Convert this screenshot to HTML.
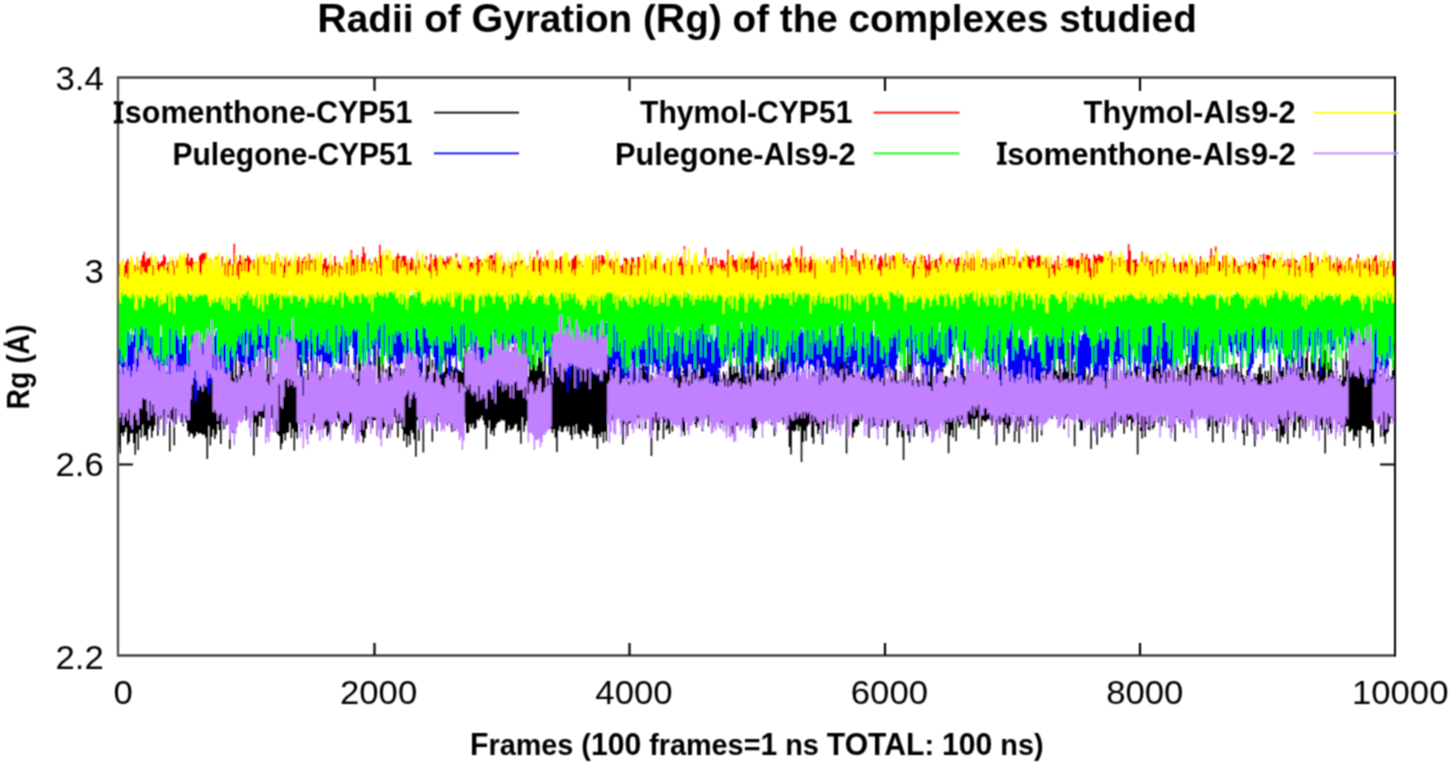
<!DOCTYPE html>
<html><head><meta charset="utf-8"><style>
html,body{margin:0;padding:0;background:#fff;width:1450px;height:765px;overflow:hidden}
svg{display:block}
text{font-family:"Liberation Sans",sans-serif;fill:#000}
</style></head><body>
<svg width="1450" height="765" viewBox="0 0 1450 765">
<rect width="1450" height="765" fill="#fff"/>
<g filter="url(#bl)">
<path d="M374.5 656v-13M374.5 77v14M629.5 656v-13M629.5 77v14M885.0 656v-13M885.0 77v14M1140.0 656v-13M1140.0 77v14M118 271.0h15M1395 271.0h-15M118 464.5h15M1395 464.5h-15" stroke="#000" stroke-width="2.2" fill="none"/>
<defs><filter id="bl" x="0" y="0" width="1450" height="765" filterUnits="userSpaceOnUse"><feConvolveMatrix order="3" kernelMatrix="1 2 1 2 4 2 1 2 1" divisor="16" edgeMode="duplicate"/></filter></defs>
<g id="series" fill="none" stroke-width="1.1"><path stroke="#000000" stroke-width="1.551" d="M118.75 384.6V447.2M120.25 369.8V453.4M121.75 365.4V432.9M123.25 383.2V436.0M124.75 376.0V432.1M126.25 346.1V427.6M127.75 375.5V444.5M129.25 334.9V442.1M130.75 378.5V433.5M132.26 373.4V433.2M133.76 381.6V443.1M135.26 356.5V454.8M136.76 374.9V433.5M138.26 380.7V449.9M139.76 374.1V429.8M141.26 381.0V437.8M142.76 369.1V424.6M144.26 382.0V436.3M145.76 382.6V435.3M147.26 369.4V440.4M148.76 371.5V428.9M150.26 363.1V426.0M151.76 368.9V437.8M153.26 366.9V430.8M154.76 359.9V425.4M156.26 373.1V415.6M157.77 362.1V435.8M159.27 375.6V425.1M160.77 375.8V419.3M162.27 350.2V415.7M163.77 376.2V435.8M165.27 368.4V415.3M166.77 371.8V416.7M168.27 374.5V417.9M169.77 368.6V451.6M171.27 376.8V419.0M172.77 360.6V421.6M174.27 371.7V445.5M175.77 369.0V424.3M177.27 367.7V411.1M178.77 345.4V413.9M180.27 373.9V416.3M181.77 355.7V422.5M183.28 372.3V426.3M184.78 378.2V419.1M186.28 370.0V422.4M187.78 372.6V430.9M189.28 363.6V436.5M190.78 366.7V432.9M192.28 376.2V434.0M193.78 370.4V438.3M195.28 343.3V436.1M196.78 376.1V432.1M198.28 367.3V433.7M199.78 368.6V432.9M201.28 377.0V433.5M202.78 370.1V434.8M204.28 337.3V434.4M205.78 373.5V437.6M207.28 367.9V459.0M208.79 363.0V425.8M210.29 371.3V445.4M211.79 375.9V436.7M213.29 353.6V429.6M214.79 368.1V439.0M216.29 359.0V434.4M217.79 372.7V424.1M219.29 374.6V430.1M220.79 379.3V444.0M222.29 366.6V423.7M223.79 375.5V429.4M225.29 368.7V418.7M226.79 367.7V424.9M228.29 366.8V413.5M229.79 380.6V448.9M231.29 370.9V413.5M232.79 328.1V433.0M234.30 378.0V416.5M235.80 353.8V423.2M237.30 375.5V416.5M238.80 374.6V417.8M240.30 339.8V407.9M241.80 363.8V416.6M243.30 370.9V410.2M244.80 373.1V412.9M246.30 358.0V420.5M247.80 374.7V414.5M249.30 329.4V409.5M250.80 365.9V423.0M252.30 317.5V408.9M253.80 353.5V455.4M255.30 359.4V422.6M256.80 376.0V436.9M258.30 368.9V426.3M259.81 360.5V415.9M261.31 364.5V427.0M262.81 370.1V417.8M264.31 367.7V418.6M265.81 378.1V426.8M267.31 348.4V413.9M268.81 374.1V414.7M270.31 356.9V418.7M271.81 374.5V418.1M273.31 376.4V424.7M274.81 378.1V420.3M276.31 381.9V432.2M277.81 372.4V434.3M279.31 361.3V436.0M280.81 367.3V449.4M282.31 364.3V443.6M283.81 366.4V433.7M285.32 368.3V440.5M286.82 353.2V432.7M288.32 320.3V432.3M289.82 368.4V422.7M291.32 373.1V437.9M292.82 361.9V428.7M294.32 374.6V450.7M295.82 375.9V431.9M297.32 349.9V438.5M298.82 377.9V421.0M300.32 357.3V422.2M301.82 366.2V431.6M303.32 376.3V419.6M304.82 370.6V422.0M306.32 387.0V426.3M307.82 358.6V419.9M309.32 374.0V415.9M310.83 368.3V434.2M312.33 377.2V429.9M313.83 369.8V423.0M315.33 371.3V418.1M316.83 358.5V415.6M318.33 379.5V426.6M319.83 375.6V415.9M321.33 373.8V421.0M322.83 361.4V417.1M324.33 382.4V428.5M325.83 381.3V425.7M327.33 379.1V436.3M328.83 378.1V433.4M330.33 381.0V431.4M331.83 376.3V424.3M333.33 368.3V422.6M334.83 377.2V417.4M336.34 374.0V426.4M337.84 376.5V418.2M339.34 379.0V421.3M340.84 381.8V428.6M342.34 386.9V440.5M343.84 380.6V428.5M345.34 372.2V434.1M346.84 381.8V429.4M348.34 353.4V426.2M349.84 380.3V424.0M351.34 377.5V422.4M352.84 373.3V429.5M354.34 373.5V417.4M355.84 343.6V412.0M357.34 379.0V419.0M358.84 347.5V411.0M360.34 359.0V432.2M361.85 381.7V435.8M363.35 373.0V442.7M364.85 385.2V438.1M366.35 348.2V428.8M367.85 367.3V419.0M369.35 371.8V423.1M370.85 361.2V418.9M372.35 381.7V428.2M373.85 382.8V420.1M375.35 329.2V420.5M376.85 386.2V436.1M378.35 350.8V426.2M379.85 356.5V424.3M381.35 374.9V432.8M382.85 342.7V429.5M384.35 379.6V427.0M385.85 368.9V419.1M387.36 370.3V438.3M388.86 366.4V433.5M390.36 331.3V424.0M391.86 373.3V429.7M393.36 380.0V424.4M394.86 362.0V416.9M396.36 367.7V422.8M397.86 365.1V437.5M399.36 380.1V423.1M400.86 367.9V422.3M402.36 377.2V429.1M403.86 368.5V441.0M405.36 378.6V434.2M406.86 380.5V447.3M408.36 354.7V435.8M409.86 371.4V444.7M411.36 377.6V430.2M412.87 373.6V432.9M414.37 366.5V439.4M415.87 379.8V456.7M417.37 344.4V420.3M418.87 377.2V440.9M420.37 362.4V422.4M421.87 359.4V418.7M423.37 378.1V452.4M424.87 375.9V418.1M426.37 364.4V413.7M427.87 365.5V415.8M429.37 347.3V420.3M430.87 374.3V419.0M432.37 359.5V441.8M433.87 373.0V418.8M435.37 363.7V419.0M436.87 375.5V431.3M438.38 357.5V415.7M439.88 350.5V421.7M441.38 373.9V421.5M442.88 373.3V415.7M444.38 371.8V422.2M445.88 351.7V418.5M447.38 368.0V425.4M448.88 373.8V423.1M450.38 354.5V415.3M451.88 366.3V432.0M453.38 370.3V424.3M454.88 367.3V430.7M456.38 368.0V415.2M457.88 369.3V414.4M459.38 370.9V416.8M460.88 370.7V429.4M462.38 372.4V421.2M463.89 356.6V416.5M465.39 340.8V422.8M466.89 341.3V433.0M468.39 370.7V432.7M469.89 362.6V424.0M471.39 369.8V427.5M472.89 343.6V423.5M474.39 370.4V429.3M475.89 358.5V428.1M477.39 366.6V419.4M478.89 354.4V420.5M480.39 364.3V418.0M481.89 347.5V415.4M483.39 352.6V420.6M484.89 362.2V424.9M486.39 347.8V449.3M487.89 349.7V428.1M489.40 355.7V420.3M490.90 348.9V434.3M492.40 362.5V430.5M493.90 366.9V435.9M495.40 359.4V427.7M496.90 365.1V423.7M498.40 363.3V421.9M499.90 366.7V421.7M501.40 361.6V419.6M502.90 364.7V420.4M504.40 356.1V420.5M505.90 357.9V433.0M507.40 352.3V430.6M508.90 364.1V425.2M510.40 369.6V430.3M511.90 370.5V429.5M513.40 347.3V428.3M514.91 328.7V425.1M516.41 367.8V423.8M517.91 363.9V431.7M519.41 338.6V430.3M520.91 358.4V443.8M522.41 329.7V416.9M523.91 341.5V431.7M525.41 333.2V425.5M526.91 351.7V421.1M528.41 376.7V431.0M529.91 359.6V409.8M531.41 369.9V413.0M532.91 354.5V416.8M534.41 365.0V412.9M535.91 370.5V411.0M537.41 365.7V412.9M538.91 357.0V418.6M540.42 344.8V434.1M541.92 340.9V424.9M543.42 371.2V420.9M544.92 360.1V422.3M546.42 376.7V420.5M547.92 377.9V425.1M549.42 362.0V418.9M550.92 373.7V428.8M552.42 366.6V433.0M553.92 364.4V429.0M555.42 367.6V437.5M556.92 362.8V452.0M558.42 359.4V430.4M559.92 354.5V426.3M561.42 361.3V432.1M562.92 361.0V431.8M564.42 366.2V427.2M565.93 325.0V425.9M567.43 357.7V431.6M568.93 362.0V426.6M570.43 355.9V435.1M571.93 342.8V439.7M573.43 356.2V426.3M574.93 358.0V434.2M576.43 360.8V424.0M577.93 365.4V433.6M579.43 365.0V434.4M580.93 359.1V438.8M582.43 368.3V430.1M583.93 369.0V431.3M585.43 370.0V433.4M586.93 351.3V436.2M588.43 347.8V431.0M589.93 357.8V424.1M591.44 354.8V425.9M592.94 371.9V438.0M594.44 370.1V434.3M595.94 359.6V437.9M597.44 373.5V449.1M598.94 373.4V434.2M600.44 358.9V437.3M601.94 369.7V432.0M603.44 355.1V442.8M604.94 353.8V431.8M606.44 345.2V440.9M607.94 320.1V413.9M609.44 363.4V403.1M610.94 361.6V404.8M612.44 367.7V420.8M613.94 366.9V412.9M615.44 359.7V411.4M616.95 363.3V412.6M618.45 361.9V416.3M619.95 360.1V410.9M621.45 364.7V427.3M622.95 374.5V444.5M624.45 371.1V423.8M625.95 378.7V425.9M627.45 380.9V435.9M628.95 381.6V423.8M630.45 351.2V422.9M631.95 372.6V420.2M633.45 368.7V408.2M634.95 345.8V417.7M636.45 373.5V411.4M637.95 379.7V418.2M639.45 379.9V428.4M640.95 368.6V409.9M642.46 358.5V420.0M643.96 365.7V416.4M645.46 371.7V428.9M646.96 373.9V415.9M648.46 356.9V418.3M649.96 379.5V433.1M651.46 374.6V456.1M652.96 376.1V430.3M654.46 378.7V422.1M655.96 380.1V422.2M657.46 377.0V440.7M658.96 360.4V430.2M660.46 356.6V416.9M661.96 373.7V418.4M663.46 364.6V438.9M664.96 348.1V422.2M666.46 366.9V430.1M667.97 355.3V428.2M669.47 377.7V433.9M670.97 378.1V418.3M672.47 382.8V431.5M673.97 359.3V416.0M675.47 374.8V424.1M676.97 365.9V425.1M678.47 374.7V422.1M679.97 367.6V419.8M681.47 375.2V430.1M682.97 370.7V431.8M684.47 368.8V435.4M685.97 351.9V414.1M687.47 367.7V416.2M688.97 380.3V419.6M690.47 369.4V420.1M691.97 372.4V415.4M693.48 368.4V408.5M694.98 356.5V423.9M696.48 378.4V427.6M697.98 353.4V422.3M699.48 375.9V421.3M700.98 365.5V405.4M702.48 318.3V431.2M703.98 368.0V413.1M705.48 368.7V418.3M706.98 370.1V416.7M708.48 373.4V426.4M709.98 358.0V409.2M711.48 373.1V414.3M712.98 345.0V414.9M714.48 355.0V421.4M715.98 365.1V416.1M717.48 375.5V421.5M718.99 369.6V417.7M720.49 378.2V428.6M721.99 379.7V423.5M723.49 371.8V414.4M724.99 374.3V416.5M726.49 377.5V432.1M727.99 379.1V422.4M729.49 363.8V427.0M730.99 332.0V429.7M732.49 374.5V433.5M733.99 366.2V436.0M735.49 373.0V426.4M736.99 342.5V425.6M738.49 372.5V426.0M739.99 378.0V420.9M741.49 365.2V427.3M742.99 357.5V420.5M744.50 380.5V420.8M746.00 376.4V429.0M747.50 369.3V422.5M749.00 350.7V425.0M750.50 376.5V428.3M752.00 344.6V428.5M753.50 369.0V437.9M755.00 382.7V430.9M756.50 361.4V429.2M758.00 353.4V421.1M759.50 373.8V416.9M761.00 370.1V421.4M762.50 366.0V409.5M764.00 368.2V416.7M765.50 373.8V416.7M767.00 367.5V416.5M768.50 370.6V412.8M770.01 376.7V418.5M771.51 370.1V424.9M773.01 364.5V411.9M774.51 359.1V436.3M776.01 377.2V418.5M777.51 327.3V421.4M779.01 371.9V422.2M780.51 360.3V420.1M782.01 332.7V419.2M783.51 350.7V424.5M785.01 378.6V417.5M786.51 373.3V423.3M788.01 373.3V429.5M789.51 376.1V447.0M791.01 373.0V454.6M792.51 379.4V430.4M794.01 366.5V431.5M795.52 384.5V430.5M797.02 376.7V424.8M798.52 385.4V431.0M800.02 375.8V426.5M801.52 379.6V461.9M803.02 384.4V442.0M804.52 380.9V430.7M806.02 385.7V441.1M807.52 383.0V426.2M809.02 367.7V424.1M810.52 382.9V424.1M812.02 371.6V437.2M813.52 372.3V443.7M815.02 376.9V422.0M816.52 375.1V425.9M818.02 378.6V434.1M819.52 370.5V429.8M821.03 366.6V420.3M822.53 365.9V444.4M824.03 360.5V424.8M825.53 370.2V416.4M827.03 375.5V433.7M828.53 368.6V414.2M830.03 371.4V415.4M831.53 374.7V421.8M833.03 358.1V429.1M834.53 362.5V416.6M836.03 350.0V414.3M837.53 360.4V424.6M839.03 355.4V414.3M840.53 356.9V410.1M842.03 348.8V412.6M843.53 329.0V418.7M845.03 373.1V414.5M846.54 356.5V453.4M848.04 364.9V411.7M849.54 371.2V414.5M851.04 352.9V411.2M852.54 368.3V437.6M854.04 375.1V432.4M855.54 381.8V426.2M857.04 360.3V426.7M858.54 359.6V424.9M860.04 374.4V414.4M861.54 377.2V421.4M863.04 371.6V418.9M864.54 350.2V413.5M866.04 367.1V413.8M867.54 373.3V412.3M869.04 378.1V438.0M870.54 376.2V421.9M872.05 372.7V419.7M873.55 372.9V427.2M875.05 367.4V425.3M876.55 376.3V418.8M878.05 356.9V414.7M879.55 354.8V417.6M881.05 380.1V427.1M882.55 380.6V426.3M884.05 366.0V418.2M885.55 377.8V419.4M887.05 381.2V445.6M888.55 379.6V427.5M890.05 364.0V415.4M891.55 376.8V415.4M893.05 368.1V418.5M894.55 368.0V423.1M896.05 369.5V420.3M897.56 381.6V437.6M899.06 380.2V431.7M900.56 371.4V421.2M902.06 379.4V437.3M903.56 376.3V459.9M905.06 359.7V429.6M906.56 370.3V421.9M908.06 352.8V435.4M909.56 354.9V442.5M911.06 335.7V423.0M912.56 379.4V424.7M914.06 373.4V436.7M915.56 381.8V424.6M917.06 377.0V427.3M918.56 379.9V424.2M920.06 380.1V425.0M921.56 364.2V424.1M923.07 373.3V427.7M924.57 368.8V424.1M926.07 368.4V433.2M927.57 374.3V436.2M929.07 381.9V424.3M930.57 330.0V417.7M932.07 365.2V426.8M933.57 385.6V437.1M935.07 376.0V420.6M936.57 339.4V430.0M938.07 367.8V418.8M939.57 375.3V423.8M941.07 367.1V421.1M942.57 368.5V425.9M944.07 380.7V422.5M945.57 375.9V433.8M947.07 376.6V424.0M948.58 385.5V453.2M950.08 378.3V435.4M951.58 370.6V430.1M953.08 354.5V437.6M954.58 377.2V417.1M956.08 393.6V441.3M957.58 364.9V421.6M959.08 380.6V427.5M960.58 372.1V425.1M962.08 372.8V420.0M963.58 368.3V427.9M965.08 375.9V423.3M966.58 379.0V418.8M968.08 376.7V423.6M969.58 371.6V425.0M971.08 377.3V429.3M972.58 371.6V418.5M974.09 375.1V429.8M975.59 363.2V418.9M977.09 377.7V417.4M978.59 383.2V439.0M980.09 362.3V417.2M981.59 375.9V426.6M983.09 353.2V419.9M984.59 371.8V421.6M986.09 374.2V421.6M987.59 374.7V419.2M989.09 377.8V419.4M990.59 373.3V420.9M992.09 368.9V425.5M993.59 343.4V416.1M995.09 374.5V417.0M996.59 359.6V445.2M998.09 376.9V421.1M999.60 346.8V424.6M1001.10 349.9V423.1M1002.60 376.5V421.9M1004.10 359.5V441.5M1005.60 366.4V424.4M1007.10 387.0V428.5M1008.60 369.2V433.6M1010.10 377.4V425.6M1011.60 354.9V422.5M1013.10 364.9V414.0M1014.60 378.5V441.8M1016.10 373.5V431.6M1017.60 366.4V421.6M1019.10 377.7V443.2M1020.60 359.3V425.8M1022.10 381.4V428.8M1023.60 377.3V427.5M1025.11 374.0V413.5M1026.61 379.8V419.6M1028.11 374.7V425.7M1029.61 372.4V421.8M1031.11 370.9V420.8M1032.61 385.4V442.2M1034.11 345.8V422.4M1035.61 370.7V417.2M1037.11 373.1V441.9M1038.61 332.7V418.6M1040.11 370.6V416.1M1041.61 369.5V435.4M1043.11 375.8V423.5M1044.61 373.4V419.6M1046.11 368.5V412.4M1047.61 357.1V410.6M1049.11 370.7V414.3M1050.62 322.4V416.7M1052.12 373.1V419.0M1053.62 363.6V413.4M1055.12 363.2V413.6M1056.62 371.1V418.9M1058.12 375.4V416.3M1059.62 341.3V425.7M1061.12 369.5V415.8M1062.62 372.3V410.0M1064.12 363.7V429.1M1065.62 367.6V419.3M1067.12 372.0V416.6M1068.62 341.2V411.3M1070.12 378.8V417.6M1071.62 344.0V419.2M1073.12 373.1V415.7M1074.62 361.8V446.2M1076.13 366.6V418.7M1077.63 366.2V410.5M1079.13 365.8V421.7M1080.63 367.3V430.4M1082.13 347.4V430.3M1083.63 368.5V412.1M1085.13 354.5V423.4M1086.63 377.1V417.1M1088.13 374.8V415.3M1089.63 358.8V413.5M1091.13 377.5V448.9M1092.63 376.5V418.5M1094.13 365.0V431.0M1095.63 370.5V419.2M1097.13 371.1V444.7M1098.63 322.5V415.6M1100.13 375.0V415.1M1101.64 375.6V437.2M1103.14 366.4V423.5M1104.64 366.6V432.6M1106.14 367.6V413.7M1107.64 342.5V427.7M1109.14 379.4V431.5M1110.64 382.0V427.7M1112.14 371.8V437.5M1113.64 369.7V420.3M1115.14 378.9V429.4M1116.64 358.9V417.1M1118.14 379.7V422.2M1119.64 373.9V421.6M1121.14 370.8V424.1M1122.64 376.8V416.9M1124.14 381.8V433.7M1125.64 373.6V417.7M1127.15 367.3V426.8M1128.65 377.9V419.9M1130.15 378.1V419.0M1131.65 371.6V430.7M1133.15 382.6V422.8M1134.65 363.2V415.2M1136.15 366.5V418.6M1137.65 365.9V454.6M1139.15 381.5V424.0M1140.65 351.0V431.1M1142.15 387.5V438.6M1143.65 382.3V431.1M1145.15 381.7V437.1M1146.65 376.8V423.9M1148.15 370.9V429.2M1149.65 381.3V430.5M1151.15 368.6V417.1M1152.66 356.4V429.3M1154.16 365.8V427.3M1155.66 360.4V422.5M1157.16 368.7V415.1M1158.66 347.1V422.8M1160.16 355.2V417.9M1161.66 374.3V426.2M1163.16 356.7V410.5M1164.66 355.2V420.8M1166.16 371.6V417.1M1167.66 368.2V407.2M1169.16 370.5V428.1M1170.66 354.9V426.8M1172.16 371.7V421.1M1173.66 363.7V427.1M1175.16 381.4V441.5M1176.66 379.5V417.7M1178.17 367.3V417.1M1179.67 375.0V423.3M1181.17 370.4V411.7M1182.67 375.3V421.0M1184.17 369.4V432.3M1185.67 365.8V417.0M1187.17 355.1V402.7M1188.67 374.5V417.5M1190.17 363.6V411.1M1191.67 359.0V419.0M1193.17 375.2V416.5M1194.67 354.6V415.2M1196.17 372.5V414.1M1197.67 354.8V414.8M1199.17 364.9V418.7M1200.67 365.3V410.5M1202.17 368.8V413.5M1203.68 366.5V412.7M1205.18 337.3V413.0M1206.68 366.8V416.2M1208.18 381.9V430.9M1209.68 370.2V427.0M1211.18 366.2V413.5M1212.68 369.0V442.2M1214.18 366.0V408.9M1215.68 373.3V426.4M1217.18 377.8V433.2M1218.68 365.7V416.3M1220.18 372.9V422.5M1221.68 369.6V413.4M1223.18 371.9V442.6M1224.68 374.3V423.6M1226.18 369.4V411.1M1227.68 369.8V416.0M1229.19 365.0V411.5M1230.69 369.8V408.5M1232.19 364.2V408.2M1233.69 371.0V432.1M1235.19 364.2V409.8M1236.69 363.1V420.2M1238.19 371.5V414.6M1239.69 372.5V412.8M1241.19 364.0V417.4M1242.69 374.7V433.2M1244.19 378.9V445.3M1245.69 376.5V417.7M1247.19 370.1V436.0M1248.69 366.9V420.1M1250.19 375.6V422.6M1251.69 379.2V424.9M1253.19 377.8V429.0M1254.70 373.2V446.4M1256.20 377.8V418.7M1257.70 374.1V434.1M1259.20 367.3V419.7M1260.70 363.9V422.5M1262.20 373.9V428.1M1263.70 385.7V435.9M1265.20 370.8V419.3M1266.70 376.5V417.7M1268.20 370.8V427.5M1269.70 380.5V421.5M1271.20 365.0V426.4M1272.70 383.7V423.6M1274.20 370.0V424.4M1275.70 374.0V430.7M1277.20 376.8V441.6M1278.70 365.3V423.7M1280.21 372.0V442.4M1281.71 370.9V435.4M1283.21 367.1V437.6M1284.71 376.3V433.9M1286.21 325.2V425.0M1287.71 368.2V444.1M1289.21 376.9V419.4M1290.71 368.0V422.9M1292.21 369.6V415.5M1293.71 357.3V437.2M1295.21 372.2V430.6M1296.71 368.0V413.2M1298.21 379.5V422.6M1299.71 367.0V438.2M1301.21 372.9V419.8M1302.71 344.1V427.7M1304.21 378.1V424.6M1305.72 357.9V431.5M1307.22 346.1V415.1M1308.72 372.3V423.6M1310.22 374.6V413.2M1311.72 341.3V419.9M1313.22 361.8V417.4M1314.72 360.7V413.5M1316.22 375.3V430.4M1317.72 371.1V418.9M1319.22 358.3V412.6M1320.72 363.4V425.2M1322.22 352.9V429.9M1323.72 346.1V407.5M1325.22 350.3V453.4M1326.72 379.7V424.8M1328.22 362.2V430.8M1329.72 367.5V428.7M1331.23 357.6V433.4M1332.73 370.7V420.0M1334.23 376.7V418.8M1335.73 363.4V426.1M1337.23 371.2V418.2M1338.73 378.9V424.3M1340.23 375.1V423.2M1341.73 380.6V427.7M1343.23 358.4V423.4M1344.73 376.6V446.1M1346.23 342.5V426.3M1347.73 360.8V426.1M1349.23 360.5V432.3M1350.73 370.0V430.9M1352.23 364.7V429.0M1353.73 359.9V440.8M1355.23 374.5V435.8M1356.74 376.1V437.1M1358.24 371.9V430.2M1359.74 354.8V448.1M1361.24 369.9V430.3M1362.74 349.8V425.8M1364.24 339.9V426.3M1365.74 350.0V426.8M1367.24 360.4V433.3M1368.74 364.6V429.7M1370.24 368.8V429.3M1371.74 335.2V442.9M1373.24 364.5V446.6M1374.74 363.2V416.1M1376.24 358.8V418.6M1377.74 374.4V423.4M1379.24 357.0V423.2M1380.74 373.8V436.9M1382.25 384.5V429.7M1383.75 368.8V436.2M1385.25 388.4V443.8M1386.75 378.8V433.4M1388.25 345.9V431.7M1389.75 380.0V423.5M1391.25 376.7V418.0M1392.75 370.3V415.3M1394.25 359.9V420.9"/>
<path stroke="#0000ff" stroke-width="1.551" d="M118.75 310.0V373.9M120.25 314.1V364.6M121.75 322.8V367.0M123.25 317.9V376.2M124.75 323.2V367.1M126.25 321.8V373.8M127.75 322.0V379.8M129.25 321.2V408.0M130.75 334.3V419.9M132.26 341.8V391.8M133.76 335.1V382.6M135.26 323.4V405.4M136.76 329.1V374.7M138.26 327.9V387.0M139.76 312.0V374.8M141.26 314.8V361.1M142.76 318.2V370.1M144.26 328.1V385.6M145.76 327.7V382.1M147.26 293.4V369.7M148.76 306.5V365.5M150.26 319.8V369.0M151.76 325.2V375.8M153.26 321.9V369.1M154.76 311.3V369.8M156.26 320.4V367.2M157.77 305.2V369.5M159.27 322.9V379.2M160.77 337.1V381.2M162.27 336.6V394.7M163.77 326.8V373.1M165.27 323.2V374.3M166.77 319.9V365.7M168.27 320.1V377.0M169.77 301.3V378.0M171.27 316.5V378.0M172.77 321.7V374.4M174.27 300.9V388.3M175.77 326.7V401.0M177.27 325.7V377.0M178.77 319.7V367.0M180.27 331.1V378.7M181.77 334.8V388.4M183.28 343.8V389.0M184.78 335.1V393.2M186.28 317.9V397.5M187.78 318.3V392.9M189.28 319.5V372.7M190.78 307.1V379.7M192.28 328.9V378.0M193.78 332.3V378.8M195.28 335.9V402.1M196.78 344.0V396.4M198.28 343.2V388.5M199.78 334.7V385.9M201.28 334.3V389.2M202.78 328.7V388.3M204.28 334.5V378.0M205.78 337.6V380.8M207.28 332.1V387.9M208.79 326.2V394.6M210.29 314.7V384.3M211.79 332.6V380.0M213.29 325.3V378.8M214.79 336.1V401.2M216.29 330.5V375.5M217.79 319.9V388.9M219.29 318.9V376.5M220.79 327.1V370.9M222.29 313.9V385.3M223.79 326.0V372.6M225.29 330.8V377.6M226.79 321.2V374.5M228.29 328.4V408.1M229.79 320.6V379.1M231.29 326.1V372.7M232.79 319.4V365.4M234.30 291.5V359.3M235.80 310.3V357.5M237.30 310.5V353.8M238.80 310.9V361.1M240.30 316.8V363.7M241.80 312.8V362.4M243.30 309.6V367.6M244.80 322.1V381.0M246.30 306.4V378.4M247.80 299.7V364.3M249.30 304.6V367.7M250.80 308.6V366.0M252.30 315.8V395.5M253.80 314.6V363.3M255.30 290.9V371.7M256.80 296.1V357.2M258.30 304.3V349.4M259.81 302.9V371.1M261.31 289.8V352.2M262.81 302.2V349.6M264.31 305.7V349.0M265.81 308.4V357.1M267.31 308.8V353.8M268.81 293.4V347.6M270.31 298.1V355.8M271.81 288.1V383.4M273.31 294.0V345.8M274.81 309.7V358.6M276.31 310.5V362.5M277.81 313.1V384.7M279.31 311.1V356.7M280.81 314.2V360.7M282.31 314.0V388.3M283.81 311.9V357.5M285.32 309.3V366.6M286.82 320.0V365.5M288.32 321.8V373.9M289.82 323.3V366.5M291.32 311.1V374.3M292.82 328.5V373.4M294.32 314.4V362.1M295.82 309.7V359.3M297.32 306.9V355.5M298.82 308.1V360.6M300.32 312.6V354.7M301.82 315.6V393.1M303.32 307.9V355.7M304.82 314.0V363.2M306.32 309.6V363.7M307.82 314.0V357.6M309.32 310.8V348.9M310.83 319.7V372.7M312.33 320.1V372.7M313.83 313.2V370.6M315.33 298.6V354.0M316.83 308.6V360.1M318.33 316.9V355.9M319.83 307.3V361.7M321.33 320.7V354.7M322.83 314.5V367.7M324.33 311.5V368.0M325.83 325.2V379.2M327.33 322.7V370.6M328.83 322.2V401.0M330.33 315.0V367.3M331.83 322.0V367.5M333.33 319.9V356.6M334.83 320.1V358.1M336.34 316.7V362.6M337.84 315.3V352.1M339.34 319.9V364.3M340.84 319.1V364.1M342.34 325.0V376.6M343.84 308.6V382.1M345.34 319.0V366.9M346.84 306.8V354.7M348.34 310.3V352.2M349.84 296.5V345.6M351.34 300.1V341.2M352.84 308.5V347.9M354.34 311.8V364.7M355.84 307.0V363.3M357.34 310.1V354.7M358.84 316.5V357.7M360.34 316.1V351.4M361.85 301.0V353.2M363.35 312.4V380.7M364.85 316.0V359.4M366.35 296.2V348.3M367.85 309.0V368.2M369.35 296.2V382.5M370.85 300.0V344.3M372.35 308.1V349.1M373.85 290.4V382.4M375.35 295.3V346.3M376.85 292.0V342.9M378.35 310.6V355.9M379.85 304.8V349.0M381.35 306.5V355.4M382.85 322.1V355.3M384.35 303.0V355.9M385.85 314.4V348.3M387.36 311.6V355.2M388.86 294.7V363.5M390.36 306.9V347.7M391.86 306.4V360.7M393.36 314.5V366.3M394.86 320.4V355.4M396.36 319.6V363.6M397.86 325.9V381.2M399.36 321.5V377.3M400.86 328.4V363.6M402.36 325.0V363.2M403.86 318.8V352.8M405.36 326.0V358.9M406.86 315.4V358.0M408.36 318.5V353.4M409.86 313.7V353.2M411.36 304.5V373.1M412.87 313.0V352.6M414.37 317.9V354.1M415.87 313.8V353.9M417.37 311.4V354.3M418.87 322.2V382.7M420.37 306.7V357.5M421.87 315.1V374.3M423.37 309.4V354.9M424.87 319.0V352.9M426.37 305.8V365.2M427.87 313.2V357.8M429.37 315.6V352.9M430.87 305.6V348.4M432.37 309.4V348.2M433.87 314.4V357.0M435.37 320.2V365.3M436.87 324.6V380.5M438.38 326.8V364.1M439.88 327.3V363.5M441.38 330.6V377.3M442.88 316.7V363.6M444.38 295.4V360.6M445.88 317.3V356.4M447.38 308.3V354.3M448.88 322.4V384.7M450.38 305.6V370.3M451.88 321.7V355.5M453.38 322.0V357.9M454.88 295.1V355.4M456.38 318.4V373.1M457.88 316.8V355.1M459.38 296.4V360.5M460.88 306.0V361.2M462.38 301.3V370.1M463.89 305.6V347.9M465.39 301.7V342.7M466.89 303.5V348.1M468.39 310.6V346.6M469.89 304.4V343.4M471.39 299.1V351.4M472.89 314.7V360.2M474.39 318.8V354.9M475.89 318.2V365.1M477.39 318.4V353.1M478.89 320.3V356.5M480.39 315.1V399.8M481.89 323.6V375.6M483.39 323.8V370.4M484.89 317.1V364.3M486.39 312.4V352.6M487.89 316.5V359.2M489.40 321.0V367.4M490.90 318.6V362.7M492.40 303.6V365.3M493.90 320.5V397.8M495.40 321.0V376.6M496.90 320.4V386.4M498.40 314.3V352.4M499.90 310.9V351.4M501.40 303.1V350.1M502.90 305.0V357.5M504.40 299.0V354.9M505.90 302.6V339.4M507.40 299.9V344.7M508.90 298.9V347.8M510.40 303.2V343.3M511.90 298.5V343.3M513.40 309.4V344.1M514.91 296.4V347.6M516.41 305.9V343.5M517.91 308.9V356.7M519.41 297.9V348.5M520.91 299.7V337.1M522.41 305.5V380.7M523.91 310.7V346.1M525.41 311.8V347.2M526.91 315.9V357.2M528.41 308.4V363.7M529.91 314.8V365.6M531.41 313.9V355.2M532.91 295.9V344.4M534.41 315.2V354.0M535.91 296.5V351.6M537.41 317.1V350.6M538.91 313.3V356.0M540.42 310.0V352.9M541.92 292.9V337.7M543.42 298.0V342.8M544.92 314.8V362.2M546.42 319.7V356.2M547.92 318.0V353.2M549.42 306.6V366.1M550.92 307.4V375.5M552.42 309.9V385.1M553.92 310.5V356.6M555.42 317.3V364.2M556.92 313.4V355.0M558.42 324.2V359.4M559.92 324.9V358.7M561.42 318.7V358.9M562.92 311.9V363.4M564.42 320.6V360.1M565.93 318.9V360.1M567.43 323.5V391.7M568.93 318.9V374.9M570.43 334.6V378.5M571.93 316.4V365.9M573.43 315.3V364.0M574.93 315.6V369.9M576.43 317.9V356.0M577.93 299.6V389.0M579.43 307.7V363.0M580.93 314.1V360.3M582.43 318.9V357.3M583.93 313.4V360.4M585.43 322.2V358.2M586.93 306.1V356.7M588.43 325.4V362.4M589.93 329.7V373.8M591.44 317.7V377.7M592.94 318.3V360.6M594.44 322.4V368.1M595.94 308.6V363.6M597.44 323.1V359.9M598.94 323.0V361.4M600.44 318.0V382.8M601.94 316.6V376.0M603.44 318.4V360.9M604.94 303.9V354.6M606.44 322.7V371.5M607.94 312.3V356.6M609.44 315.0V366.9M610.94 313.3V378.2M612.44 326.6V376.3M613.94 320.2V364.3M615.44 321.1V368.1M616.95 327.1V371.8M618.45 327.7V365.8M619.95 323.8V380.5M621.45 328.0V369.0M622.95 334.3V384.7M624.45 339.6V372.6M625.95 335.8V384.9M627.45 337.9V380.4M628.95 339.7V378.1M630.45 333.9V395.9M631.95 327.6V364.8M633.45 308.6V385.9M634.95 327.5V368.7M636.45 326.6V381.0M637.95 323.6V357.1M639.45 320.1V394.5M640.95 313.0V363.7M642.46 311.2V364.8M643.96 321.7V363.2M645.46 311.2V370.8M646.96 328.9V387.3M648.46 313.6V369.7M649.96 324.3V363.6M651.46 330.8V364.5M652.96 322.5V372.9M654.46 324.6V363.2M655.96 323.3V366.4M657.46 307.3V374.8M658.96 326.1V370.9M660.46 326.1V363.5M661.96 319.9V361.9M663.46 322.6V364.3M664.96 326.4V375.8M666.46 338.5V380.6M667.97 331.7V385.1M669.47 326.1V371.7M670.97 323.8V370.5M672.47 319.1V365.6M673.97 306.5V376.8M675.47 332.9V384.9M676.97 331.0V367.0M678.47 335.2V378.3M679.97 315.8V373.9M681.47 321.5V365.8M682.97 326.9V368.6M684.47 318.5V369.4M685.97 331.5V368.2M687.47 320.4V376.3M688.97 324.6V364.0M690.47 329.8V364.4M691.97 324.7V369.2M693.48 317.7V372.4M694.98 323.6V360.2M696.48 314.2V398.6M697.98 306.6V360.1M699.48 327.8V364.8M700.98 305.9V368.3M702.48 331.0V363.9M703.98 304.1V363.8M705.48 330.9V376.8M706.98 333.1V376.2M708.48 341.8V377.6M709.98 337.2V400.6M711.48 334.2V386.7M712.98 339.0V404.7M714.48 340.9V373.4M715.98 336.4V371.2M717.48 321.0V386.8M718.99 324.3V368.3M720.49 331.4V368.2M721.99 328.0V362.5M723.49 318.3V366.6M724.99 317.7V362.0M726.49 298.7V360.3M727.99 312.3V355.3M729.49 322.6V366.9M730.99 317.5V360.1M732.49 312.5V351.8M733.99 306.1V358.2M735.49 311.1V349.4M736.99 317.9V366.7M738.49 318.1V356.8M739.99 324.9V365.8M741.49 329.0V374.1M742.99 317.2V358.5M744.50 308.6V380.3M746.00 324.9V363.1M747.50 321.1V393.1M749.00 331.0V365.0M750.50 323.5V362.3M752.00 317.8V362.6M753.50 315.4V377.4M755.00 319.0V355.2M756.50 313.3V353.6M758.00 318.0V359.1M759.50 312.2V354.9M761.00 315.7V360.8M762.50 322.6V396.2M764.00 309.1V357.4M765.50 314.6V351.6M767.00 310.4V344.4M768.50 308.1V344.1M770.01 307.2V352.5M771.51 298.7V356.7M773.01 305.9V359.5M774.51 309.3V344.1M776.01 315.7V352.1M777.51 316.4V350.9M779.01 310.2V359.4M780.51 311.5V373.1M782.01 309.2V361.3M783.51 297.4V345.5M785.01 317.3V372.4M786.51 327.3V373.8M788.01 327.4V386.8M789.51 322.8V366.9M791.01 332.7V367.9M792.51 320.7V408.1M794.01 324.6V387.6M795.52 329.3V362.3M797.02 320.7V381.3M798.52 331.6V384.8M800.02 330.1V366.3M801.52 328.4V368.1M803.02 332.4V400.6M804.52 325.0V364.0M806.02 310.8V361.6M807.52 312.5V359.5M809.02 316.2V383.2M810.52 322.5V364.8M812.02 329.7V364.3M813.52 329.5V366.2M815.02 331.4V379.0M816.52 327.0V373.0M818.02 324.6V368.9M819.52 335.3V387.6M821.03 327.0V374.2M822.53 302.8V367.3M824.03 317.6V355.9M825.53 319.4V358.2M827.03 317.2V366.6M828.53 318.4V372.7M830.03 326.3V366.9M831.53 337.3V382.8M833.03 320.0V364.4M834.53 304.8V369.1M836.03 317.1V384.2M837.53 335.7V375.7M839.03 324.4V369.5M840.53 320.3V363.6M842.03 323.5V363.1M843.53 310.9V366.9M845.03 328.2V374.1M846.54 308.3V355.1M848.04 319.3V363.7M849.54 321.4V372.3M851.04 326.1V403.0M852.54 323.3V367.4M854.04 326.8V362.6M855.54 311.5V408.0M857.04 320.9V376.2M858.54 325.9V372.8M860.04 321.2V371.4M861.54 329.8V367.2M863.04 316.0V364.1M864.54 331.3V376.5M866.04 329.1V391.7M867.54 328.9V376.8M869.04 322.7V383.2M870.54 326.0V383.6M872.05 320.1V367.1M873.55 336.1V374.1M875.05 335.5V414.8M876.55 327.9V417.7M878.05 336.6V408.5M879.55 327.8V377.5M881.05 319.9V380.0M882.55 330.2V378.0M884.05 328.1V364.5M885.55 329.5V367.8M887.05 318.4V372.4M888.55 319.3V368.0M890.05 332.5V367.3M891.55 319.3V368.9M893.05 318.1V375.4M894.55 319.6V373.1M896.05 313.4V365.2M897.56 316.9V358.4M899.06 318.1V352.0M900.56 308.2V349.9M902.06 304.6V342.6M903.56 311.7V370.2M905.06 304.3V352.2M906.56 307.7V347.0M908.06 314.7V353.1M909.56 316.4V353.2M911.06 296.8V343.6M912.56 308.5V373.3M914.06 301.8V341.6M915.56 296.7V365.9M917.06 310.0V353.8M918.56 313.3V363.5M920.06 314.7V359.5M921.56 325.8V363.0M923.07 310.6V367.5M924.57 332.0V386.8M926.07 332.1V377.0M927.57 329.0V404.0M929.07 319.1V365.1M930.57 330.9V366.3M932.07 318.1V372.2M933.57 316.6V366.7M935.07 314.8V362.5M936.57 325.7V382.7M938.07 318.7V365.6M939.57 332.2V379.2M941.07 326.2V367.9M942.57 313.2V368.1M944.07 321.6V367.3M945.57 321.3V365.7M947.07 320.2V360.9M948.58 322.5V357.7M950.08 322.9V359.7M951.58 318.0V355.6M953.08 304.7V346.7M954.58 306.3V343.1M956.08 304.6V339.5M957.58 307.6V344.9M959.08 310.0V348.3M960.58 300.4V378.1M962.08 320.2V374.1M963.58 312.7V350.2M965.08 297.8V351.5M966.58 312.5V350.8M968.08 303.1V375.5M969.58 296.4V358.2M971.08 294.8V385.8M972.58 306.2V357.7M974.09 293.5V344.5M975.59 317.2V354.4M977.09 316.5V352.8M978.59 316.4V355.5M980.09 317.7V363.0M981.59 312.4V353.0M983.09 316.7V365.8M984.59 312.1V358.1M986.09 306.1V372.6M987.59 314.8V360.1M989.09 314.9V365.0M990.59 316.6V391.0M992.09 293.3V361.6M993.59 314.6V375.0M995.09 307.3V362.0M996.59 308.2V356.3M998.09 314.5V363.3M999.60 325.4V366.4M1001.10 324.0V388.0M1002.60 315.5V362.8M1004.10 310.9V380.4M1005.60 295.5V351.3M1007.10 304.3V349.0M1008.60 325.3V402.5M1010.10 328.6V398.8M1011.60 310.3V370.3M1013.10 335.8V374.9M1014.60 338.5V383.4M1016.10 338.8V381.4M1017.60 336.1V371.8M1019.10 338.2V373.7M1020.60 326.5V368.4M1022.10 313.2V378.9M1023.60 337.9V395.7M1025.11 348.9V391.5M1026.61 326.0V393.2M1028.11 323.1V384.2M1029.61 345.9V382.5M1031.11 344.2V386.0M1032.61 340.5V398.7M1034.11 337.1V377.4M1035.61 335.0V373.8M1037.11 336.7V403.7M1038.61 337.6V388.4M1040.11 331.8V377.3M1041.61 327.4V406.6M1043.11 334.5V371.6M1044.61 337.4V392.7M1046.11 330.4V366.0M1047.61 323.5V396.5M1049.11 325.4V374.5M1050.62 316.2V378.9M1052.12 318.1V360.1M1053.62 328.3V367.1M1055.12 319.6V371.9M1056.62 302.2V358.7M1058.12 321.2V359.0M1059.62 323.0V358.0M1061.12 324.2V359.6M1062.62 307.5V364.0M1064.12 315.3V371.3M1065.62 307.0V361.4M1067.12 290.3V368.1M1068.62 293.2V333.8M1070.12 300.1V339.2M1071.62 299.0V368.4M1073.12 310.4V359.5M1074.62 313.7V355.5M1076.13 330.1V364.3M1077.63 332.9V378.5M1079.13 329.3V379.3M1080.63 340.2V389.6M1082.13 335.2V416.1M1083.63 325.3V374.0M1085.13 320.0V366.2M1086.63 326.6V366.9M1088.13 332.4V368.8M1089.63 329.2V372.7M1091.13 327.3V363.7M1092.63 318.1V363.0M1094.13 329.8V372.4M1095.63 332.6V410.9M1097.13 313.8V378.9M1098.63 315.4V370.3M1100.13 332.9V398.9M1101.64 337.2V406.0M1103.14 334.4V382.3M1104.64 323.7V383.8M1106.14 329.6V364.7M1107.64 319.8V373.5M1109.14 297.1V356.8M1110.64 313.6V354.2M1112.14 310.2V348.8M1113.64 310.1V388.1M1115.14 310.8V385.7M1116.64 322.8V356.6M1118.14 324.0V361.3M1119.64 316.2V366.5M1121.14 318.5V357.5M1122.64 315.8V358.9M1124.14 314.0V381.0M1125.64 311.2V348.5M1127.15 320.8V360.9M1128.65 318.5V364.8M1130.15 319.5V376.2M1131.65 313.0V351.9M1133.15 316.3V348.7M1134.65 309.8V371.3M1136.15 325.8V361.4M1137.65 317.6V356.1M1139.15 328.0V369.1M1140.65 325.4V363.7M1142.15 323.7V361.9M1143.65 324.7V371.7M1145.15 315.6V363.5M1146.65 319.0V378.8M1148.15 317.3V374.6M1149.65 320.1V374.2M1151.15 325.7V363.4M1152.66 312.5V360.5M1154.16 308.9V371.1M1155.66 314.5V356.3M1157.16 318.5V361.1M1158.66 328.2V361.6M1160.16 321.7V368.7M1161.66 318.0V359.2M1163.16 322.7V382.1M1164.66 321.3V377.3M1166.16 320.1V368.8M1167.66 315.8V364.1M1169.16 303.1V364.5M1170.66 323.4V362.5M1172.16 293.5V370.2M1173.66 311.4V352.5M1175.16 316.6V352.2M1176.66 319.6V370.8M1178.17 300.4V353.7M1179.67 311.3V353.4M1181.17 313.6V347.3M1182.67 302.1V349.9M1184.17 296.5V349.5M1185.67 306.8V341.1M1187.17 305.7V346.0M1188.67 307.8V357.4M1190.17 313.3V352.5M1191.67 322.4V358.6M1193.17 314.8V400.2M1194.67 315.4V364.8M1196.17 319.4V364.4M1197.67 301.7V357.7M1199.17 320.0V356.7M1200.67 293.9V348.5M1202.17 312.0V347.7M1203.68 302.6V343.1M1205.18 299.8V341.7M1206.68 297.4V339.0M1208.18 299.5V341.4M1209.68 294.5V336.2M1211.18 300.6V365.4M1212.68 306.4V376.6M1214.18 298.8V355.2M1215.68 316.2V353.9M1217.18 307.2V377.2M1218.68 316.0V374.4M1220.18 305.6V345.2M1221.68 301.3V344.3M1223.18 306.1V363.4M1224.68 316.2V349.4M1226.18 311.0V353.2M1227.68 309.0V354.9M1229.19 308.0V345.8M1230.69 308.7V352.0M1232.19 313.7V355.4M1233.69 307.8V345.6M1235.19 310.2V344.4M1236.69 316.9V353.6M1238.19 311.0V356.8M1239.69 313.8V350.8M1241.19 312.5V365.8M1242.69 313.7V357.2M1244.19 309.0V348.0M1245.69 307.2V350.9M1247.19 318.7V355.8M1248.69 317.0V398.3M1250.19 329.8V388.1M1251.69 313.8V368.0M1253.19 317.2V364.0M1254.70 313.5V352.2M1256.20 302.6V357.7M1257.70 310.2V348.7M1259.20 308.6V345.0M1260.70 305.1V346.0M1262.20 290.0V348.7M1263.70 305.7V368.3M1265.20 299.4V353.1M1266.70 294.2V344.6M1268.20 304.3V352.9M1269.70 307.1V345.7M1271.20 303.6V343.0M1272.70 290.8V349.6M1274.20 302.2V339.5M1275.70 307.1V344.5M1277.20 302.0V349.5M1278.70 305.0V366.8M1280.21 311.1V372.6M1281.71 309.4V348.6M1283.21 308.7V353.1M1284.71 311.3V360.5M1286.21 306.9V349.3M1287.71 295.5V370.3M1289.21 313.6V359.3M1290.71 307.9V386.6M1292.21 301.5V362.7M1293.71 313.9V350.2M1295.21 310.1V350.6M1296.71 309.5V357.2M1298.21 321.3V374.9M1299.71 310.4V343.7M1301.21 308.6V368.5M1302.71 285.3V341.7M1304.21 293.3V348.1M1305.72 279.2V338.3M1307.22 288.9V328.8M1308.72 293.8V351.5M1310.22 298.9V345.8M1311.72 302.0V351.6M1313.22 304.0V355.9M1314.72 311.4V369.0M1316.22 305.5V357.9M1317.72 307.2V345.8M1319.22 302.7V338.6M1320.72 300.8V375.1M1322.22 307.2V342.6M1323.72 298.2V344.7M1325.22 303.3V336.9M1326.72 306.8V350.5M1328.22 294.0V343.2M1329.72 300.0V345.7M1331.23 313.2V354.5M1332.73 314.9V350.2M1334.23 311.0V349.8M1335.73 294.3V380.9M1337.23 292.1V328.8M1338.73 296.0V343.8M1340.23 299.7V344.6M1341.73 295.5V333.7M1343.23 286.8V328.2M1344.73 295.3V336.4M1346.23 294.2V339.3M1347.73 293.5V348.5M1349.23 294.1V333.0M1350.73 309.8V356.5M1352.23 315.9V373.6M1353.73 310.4V363.0M1355.23 300.5V348.3M1356.74 308.5V350.7M1358.24 295.4V361.4M1359.74 302.5V362.2M1361.24 315.2V367.8M1362.74 316.7V352.7M1364.24 309.8V345.7M1365.74 302.8V355.1M1367.24 313.7V383.0M1368.74 317.2V359.2M1370.24 309.3V351.1M1371.74 318.6V361.7M1373.24 320.1V363.5M1374.74 317.0V385.1M1376.24 322.1V384.8M1377.74 324.3V363.3M1379.24 331.1V392.5M1380.74 325.4V370.0M1382.25 321.4V373.0M1383.75 322.0V361.5M1385.25 324.5V382.5M1386.75 319.9V368.2M1388.25 323.8V378.9M1389.75 321.5V358.1M1391.25 312.9V352.8M1392.75 307.9V348.9M1394.25 313.6V355.6"/>
<path stroke="#ff0000" stroke-width="1.551" d="M118.75 263.6V280.5M120.25 262.8V283.8M121.75 269.0V283.7M123.25 259.6V281.0M124.75 265.1V280.5M126.25 261.5V281.8M127.75 259.0V284.2M129.25 262.6V283.5M130.75 259.8V280.1M132.26 259.4V285.3M133.76 265.3V283.3M135.26 264.8V284.7M136.76 257.3V290.2M138.26 266.6V284.7M139.76 260.7V280.7M141.26 260.6V284.4M142.76 255.3V283.7M144.26 251.7V281.1M145.76 261.6V282.2M147.26 258.1V280.5M148.76 259.1V279.8M150.26 256.9V279.7M151.76 259.1V281.8M153.26 265.0V284.0M154.76 267.4V281.7M156.26 261.0V283.4M157.77 261.3V281.1M159.27 264.2V281.5M160.77 262.5V281.9M162.27 260.8V277.2M163.77 254.7V278.6M165.27 256.9V279.1M166.77 267.8V281.7M168.27 262.2V284.2M169.77 262.3V282.7M171.27 259.0V280.0M172.77 260.4V280.5M174.27 265.6V280.3M175.77 264.7V281.8M177.27 260.5V279.9M178.77 261.5V276.5M180.27 255.4V283.5M181.77 258.3V279.7M183.28 259.1V277.1M184.78 258.6V289.3M186.28 257.7V277.5M187.78 253.5V277.8M189.28 261.6V277.1M190.78 257.8V279.3M192.28 258.0V279.0M193.78 261.9V278.6M195.28 263.2V282.8M196.78 262.0V284.9M198.28 261.8V276.2M199.78 255.7V276.0M201.28 254.1V277.4M202.78 252.7V274.9M204.28 253.6V276.0M205.78 252.4V276.6M207.28 258.6V279.0M208.79 261.7V278.1M210.29 257.9V282.8M211.79 260.2V283.5M213.29 267.8V283.5M214.79 265.2V281.9M216.29 256.9V282.4M217.79 260.2V288.0M219.29 268.3V284.9M220.79 266.5V282.7M222.29 256.6V281.7M223.79 263.2V281.4M225.29 263.1V277.7M226.79 259.7V278.3M228.29 261.7V279.1M229.79 258.8V278.3M231.29 265.4V278.8M232.79 263.9V280.5M234.30 243.8V280.3M235.80 256.7V278.8M237.30 263.6V279.0M238.80 261.0V281.4M240.30 255.1V280.9M241.80 262.5V278.0M243.30 256.8V279.1M244.80 258.3V283.0M246.30 259.1V279.1M247.80 255.5V277.7M249.30 257.8V278.8M250.80 259.8V280.9M252.30 264.9V279.2M253.80 259.5V281.7M255.30 264.2V280.0M256.80 261.2V279.6M258.30 258.2V282.6M259.81 265.7V281.3M261.31 262.7V278.9M262.81 262.4V281.3M264.31 256.8V277.7M265.81 261.1V278.6M267.31 262.1V280.3M268.81 254.4V279.1M270.31 262.1V278.2M271.81 261.9V280.4M273.31 261.6V280.8M274.81 261.0V282.8M276.31 254.4V280.4M277.81 253.4V278.5M279.31 258.7V279.7M280.81 261.9V282.9M282.31 263.4V279.1M283.81 264.9V281.6M285.32 257.4V280.2M286.82 262.0V279.8M288.32 262.0V283.1M289.82 260.1V284.7M291.32 264.9V282.8M292.82 267.0V281.7M294.32 260.6V280.1M295.82 261.9V281.8M297.32 260.0V280.9M298.82 256.6V279.6M300.32 262.3V288.4M301.82 261.0V283.8M303.32 258.3V278.4M304.82 256.8V277.8M306.32 260.7V282.3M307.82 260.0V282.1M309.32 253.9V279.8M310.83 261.6V280.3M312.33 259.1V281.7M313.83 261.8V281.6M315.33 258.8V278.4M316.83 260.2V278.4M318.33 264.9V282.0M319.83 265.8V284.0M321.33 258.7V280.0M322.83 264.1V280.8M324.33 259.1V278.8M325.83 258.1V279.7M327.33 265.9V283.7M328.83 264.1V283.7M330.33 261.1V281.3M331.83 265.5V282.7M333.33 264.2V286.3M334.83 255.9V277.7M336.34 262.7V278.5M337.84 267.1V280.8M339.34 262.2V282.0M340.84 265.8V286.1M342.34 267.0V282.2M343.84 259.8V278.7M345.34 256.8V280.1M346.84 262.5V279.1M348.34 263.2V281.3M349.84 262.1V280.8M351.34 250.0V279.5M352.84 259.5V278.6M354.34 258.9V279.8M355.84 260.6V283.3M357.34 254.9V280.4M358.84 260.5V289.0M360.34 262.9V285.3M361.85 257.1V274.9M363.35 246.8V279.3M364.85 253.0V278.9M366.35 263.1V287.3M367.85 261.9V278.6M369.35 259.1V281.5M370.85 267.5V281.2M372.35 262.5V281.6M373.85 260.1V283.8M375.35 257.6V282.3M376.85 261.3V280.8M378.35 265.1V285.2M379.85 244.8V279.1M381.35 255.6V278.2M382.85 253.9V279.1M384.35 256.9V276.0M385.85 255.5V274.0M387.36 255.0V282.8M388.86 263.2V278.5M390.36 256.9V283.0M391.86 260.1V283.8M393.36 259.7V277.4M394.86 257.2V278.4M396.36 256.6V279.1M397.86 253.3V281.9M399.36 256.1V277.6M400.86 260.2V280.4M402.36 256.1V279.1M403.86 256.0V280.6M405.36 255.7V280.8M406.86 262.7V281.1M408.36 260.1V282.3M409.86 262.4V289.1M411.36 257.5V283.2M412.87 259.0V286.3M414.37 266.6V280.8M415.87 265.4V280.4M417.37 252.6V279.6M418.87 259.8V279.2M420.37 262.4V277.9M421.87 265.2V284.4M423.37 260.0V279.3M424.87 263.9V287.4M426.37 256.1V284.0M427.87 268.0V286.2M429.37 264.3V280.7M430.87 253.8V279.7M432.37 262.3V278.0M433.87 259.3V284.3M435.37 255.1V279.1M436.87 258.0V280.1M438.38 261.5V276.5M439.88 257.3V281.6M441.38 262.3V279.3M442.88 258.1V280.2M444.38 261.3V279.4M445.88 261.4V277.8M447.38 256.6V283.1M448.88 259.2V288.6M450.38 256.1V279.2M451.88 257.3V279.5M453.38 266.4V281.1M454.88 261.5V277.4M456.38 253.3V279.7M457.88 260.9V279.1M459.38 264.6V280.5M460.88 264.6V284.6M462.38 261.2V276.3M463.89 262.3V277.6M465.39 264.9V280.5M466.89 262.8V283.2M468.39 256.8V282.4M469.89 262.7V286.7M471.39 262.0V288.9M472.89 262.7V279.5M474.39 257.5V280.0M475.89 263.0V286.7M477.39 255.9V278.7M478.89 259.3V279.3M480.39 259.5V279.1M481.89 262.5V278.4M483.39 263.0V281.6M484.89 263.1V286.9M486.39 258.9V282.4M487.89 260.1V277.0M489.40 256.1V277.9M490.90 255.0V277.6M492.40 255.1V279.5M493.90 260.2V278.0M495.40 252.8V277.4M496.90 258.2V280.7M498.40 260.5V288.3M499.90 264.1V286.5M501.40 256.1V279.5M502.90 266.4V286.8M504.40 262.3V281.1M505.90 265.1V282.2M507.40 267.7V282.1M508.90 261.3V282.0M510.40 266.0V281.3M511.90 262.5V286.7M513.40 269.9V285.4M514.91 262.1V282.0M516.41 261.3V284.2M517.91 260.3V285.8M519.41 269.2V285.0M520.91 260.8V283.4M522.41 259.8V281.4M523.91 265.4V279.7M525.41 264.9V280.5M526.91 267.7V281.5M528.41 265.5V284.7M529.91 255.9V279.6M531.41 260.4V281.1M532.91 259.7V279.7M534.41 257.0V276.4M535.91 263.3V277.2M537.41 250.0V288.9M538.91 259.9V277.6M540.42 257.3V283.9M541.92 261.0V278.5M543.42 262.0V283.0M544.92 256.1V281.4M546.42 259.8V281.9M547.92 260.2V282.1M549.42 260.0V280.0M550.92 260.8V284.7M552.42 261.3V282.9M553.92 267.2V281.2M555.42 259.6V281.3M556.92 260.1V281.2M558.42 265.1V282.5M559.92 257.5V277.5M561.42 256.1V281.3M562.92 264.7V278.9M564.42 257.5V280.7M565.93 262.5V277.8M567.43 259.2V284.5M568.93 261.8V284.9M570.43 262.7V287.0M571.93 259.7V276.8M573.43 258.0V280.7M574.93 255.9V281.6M576.43 255.0V278.6M577.93 260.4V277.4M579.43 260.9V277.4M580.93 261.0V283.3M582.43 265.4V281.9M583.93 264.5V278.9M585.43 261.6V280.8M586.93 266.2V279.8M588.43 259.3V285.2M589.93 256.5V281.3M591.44 263.7V280.6M592.94 259.6V278.2M594.44 262.1V281.9M595.94 256.3V280.4M597.44 262.9V284.4M598.94 255.2V276.2M600.44 260.7V278.5M601.94 254.9V289.3M603.44 255.9V280.0M604.94 259.3V282.5M606.44 265.2V279.7M607.94 254.4V278.3M609.44 261.8V278.5M610.94 259.3V279.2M612.44 260.9V282.2M613.94 261.0V282.8M615.44 262.1V279.8M616.95 258.7V281.9M618.45 263.8V282.2M619.95 266.2V285.9M621.45 265.8V280.2M622.95 264.0V278.8M624.45 257.8V278.2M625.95 258.0V280.0M627.45 259.2V282.5M628.95 262.0V275.7M630.45 264.4V279.2M631.95 257.3V280.1M633.45 258.0V279.6M634.95 264.5V280.6M636.45 265.5V281.3M637.95 257.0V279.4M639.45 257.1V278.0M640.95 263.2V280.3M642.46 263.3V278.1M643.96 254.6V277.0M645.46 259.7V284.3M646.96 258.6V282.1M648.46 264.2V283.0M649.96 262.2V279.3M651.46 262.4V278.5M652.96 263.8V278.8M654.46 259.8V278.9M655.96 256.0V279.3M657.46 259.2V283.2M658.96 261.1V283.7M660.46 268.4V282.7M661.96 271.1V285.8M663.46 264.5V283.8M664.96 262.9V283.8M666.46 266.0V285.4M667.97 258.7V282.2M669.47 264.1V282.4M670.97 261.6V284.4M672.47 258.9V283.9M673.97 266.7V284.1M675.47 261.0V283.4M676.97 261.4V284.1M678.47 262.3V280.0M679.97 258.3V281.8M681.47 256.4V280.2M682.97 262.7V283.9M684.47 246.3V281.6M685.97 265.0V281.7M687.47 260.8V285.0M688.97 267.0V285.4M690.47 264.4V281.9M691.97 265.0V288.3M693.48 265.5V281.9M694.98 257.6V282.1M696.48 256.8V279.3M697.98 265.6V284.4M699.48 265.3V280.6M700.98 261.2V287.8M702.48 262.1V285.7M703.98 263.7V278.5M705.48 247.8V281.1M706.98 264.5V287.0M708.48 258.1V281.3M709.98 265.1V282.6M711.48 265.3V285.3M712.98 257.3V278.8M714.48 263.9V284.3M715.98 257.3V279.2M717.48 264.6V283.2M718.99 265.0V284.6M720.49 259.8V281.8M721.99 259.9V279.0M723.49 260.6V287.6M724.99 264.5V286.1M726.49 262.5V281.2M727.99 249.5V278.1M729.49 265.1V282.0M730.99 262.6V282.3M732.49 254.9V279.2M733.99 260.0V280.1M735.49 260.4V279.9M736.99 258.9V281.0M738.49 264.1V282.5M739.99 262.9V279.5M741.49 257.5V280.5M742.99 262.1V283.0M744.50 258.7V281.0M746.00 259.5V288.6M747.50 258.3V290.0M749.00 256.8V289.1M750.50 258.8V282.8M752.00 256.9V280.6M753.50 251.6V278.9M755.00 265.2V290.8M756.50 262.6V280.5M758.00 259.4V280.7M759.50 263.4V285.1M761.00 260.2V287.5M762.50 260.7V281.6M764.00 257.5V287.7M765.50 261.5V282.2M767.00 262.2V285.0M768.50 266.6V280.1M770.01 259.1V279.0M771.51 261.6V278.8M773.01 265.4V279.4M774.51 263.7V282.0M776.01 261.4V283.1M777.51 264.5V283.3M779.01 261.1V282.1M780.51 264.4V287.7M782.01 259.6V281.1M783.51 266.6V288.4M785.01 263.5V283.1M786.51 263.8V281.4M788.01 257.9V279.5M789.51 255.6V287.4M791.01 262.3V284.5M792.51 260.7V280.6M794.01 257.9V283.7M795.52 256.9V290.0M797.02 257.2V278.8M798.52 260.0V285.0M800.02 258.4V279.8M801.52 246.1V277.8M803.02 263.0V277.8M804.52 257.1V277.6M806.02 264.8V280.3M807.52 261.0V279.2M809.02 262.7V280.2M810.52 256.2V281.0M812.02 259.7V292.3M813.52 258.9V279.0M815.02 263.0V282.1M816.52 259.9V283.3M818.02 262.9V278.4M819.52 263.2V281.7M821.03 261.0V279.5M822.53 267.0V283.8M824.03 265.3V280.4M825.53 265.6V282.0M827.03 259.8V285.6M828.53 261.6V282.9M830.03 261.6V284.2M831.53 264.4V283.3M833.03 262.2V279.0M834.53 256.2V279.1M836.03 259.4V284.1M837.53 258.2V279.0M839.03 262.4V280.8M840.53 261.5V281.6M842.03 248.1V279.7M843.53 255.2V279.9M845.03 257.1V281.8M846.54 257.6V278.4M848.04 261.5V283.0M849.54 260.3V283.8M851.04 255.2V280.2M852.54 255.5V275.4M854.04 259.4V275.6M855.54 249.5V283.8M857.04 259.9V279.4M858.54 260.5V281.5M860.04 261.6V284.8M861.54 259.7V284.0M863.04 253.4V279.5M864.54 258.4V278.5M866.04 266.6V283.2M867.54 257.5V283.9M869.04 262.2V281.6M870.54 259.9V281.7M872.05 258.4V283.0M873.55 262.8V286.3M875.05 254.4V288.4M876.55 265.8V284.0M878.05 263.7V286.8M879.55 257.2V277.6M881.05 255.6V277.6M882.55 259.4V280.7M884.05 258.1V282.5M885.55 253.4V277.3M887.05 263.3V277.9M888.55 262.0V283.5M890.05 256.3V279.1M891.55 261.7V278.7M893.05 254.9V282.7M894.55 255.9V276.2M896.05 257.0V286.1M897.56 256.7V278.2M899.06 261.6V282.5M900.56 260.7V276.0M902.06 258.9V279.0M903.56 253.5V280.3M905.06 262.0V278.0M906.56 257.7V279.5M908.06 264.8V281.8M909.56 260.8V286.0M911.06 260.4V291.0M912.56 264.6V284.6M914.06 260.8V287.3M915.56 256.5V285.9M917.06 265.5V279.7M918.56 266.5V279.8M920.06 256.9V282.0M921.56 255.0V279.9M923.07 261.6V276.8M924.57 256.1V278.5M926.07 260.0V277.4M927.57 264.8V278.6M929.07 254.3V285.3M930.57 262.5V278.4M932.07 261.1V277.9M933.57 262.1V278.7M935.07 259.8V284.2M936.57 259.1V282.4M938.07 266.6V292.7M939.57 257.8V279.6M941.07 254.6V277.3M942.57 259.8V282.8M944.07 266.8V282.5M945.57 264.1V280.7M947.07 262.1V282.2M948.58 259.4V280.9M950.08 259.0V282.6M951.58 259.7V282.7M953.08 263.7V280.4M954.58 258.7V281.7M956.08 263.9V281.4M957.58 258.0V285.0M959.08 257.3V282.9M960.58 262.2V281.0M962.08 256.9V278.0M963.58 263.9V278.5M965.08 259.6V288.3M966.58 251.3V282.4M968.08 262.2V279.6M969.58 258.6V281.2M971.08 258.5V287.5M972.58 253.7V276.4M974.09 257.6V280.4M975.59 264.2V280.4M977.09 266.8V291.1M978.59 261.8V280.3M980.09 263.3V282.6M981.59 264.1V279.8M983.09 258.6V283.0M984.59 260.3V282.9M986.09 257.8V278.6M987.59 261.4V279.8M989.09 263.8V278.3M990.59 259.0V278.2M992.09 263.2V279.4M993.59 257.2V279.3M995.09 262.3V282.2M996.59 263.9V281.5M998.09 262.5V279.0M999.60 261.0V283.5M1001.10 256.6V282.1M1002.60 258.1V282.0M1004.10 258.2V275.0M1005.60 265.1V282.3M1007.10 256.6V281.8M1008.60 256.2V278.6M1010.10 257.0V280.6M1011.60 256.2V283.8M1013.10 263.7V285.5M1014.60 256.5V286.2M1016.10 258.0V282.1M1017.60 264.0V280.8M1019.10 260.9V280.6M1020.60 261.9V285.2M1022.10 257.4V281.6M1023.60 257.1V284.5M1025.11 259.5V286.8M1026.61 255.4V280.4M1028.11 256.2V278.8M1029.61 256.4V278.3M1031.11 259.0V278.3M1032.61 254.9V279.9M1034.11 258.8V281.5M1035.61 261.6V278.0M1037.11 256.7V278.7M1038.61 254.9V277.8M1040.11 256.1V278.2M1041.61 262.6V282.8M1043.11 261.5V281.8M1044.61 259.5V280.7M1046.11 257.8V280.5M1047.61 260.9V281.0M1049.11 266.7V287.5M1050.62 258.1V289.7M1052.12 264.2V280.7M1053.62 265.0V290.5M1055.12 260.7V279.1M1056.62 259.9V278.3M1058.12 255.8V278.3M1059.62 266.9V281.0M1061.12 263.8V280.8M1062.62 257.9V278.3M1064.12 259.5V281.0M1065.62 265.8V280.9M1067.12 259.8V282.5M1068.62 258.4V281.8M1070.12 257.5V281.6M1071.62 259.5V279.3M1073.12 257.8V277.5M1074.62 259.3V276.5M1076.13 260.2V276.6M1077.63 259.8V278.7M1079.13 259.5V282.6M1080.63 254.6V281.5M1082.13 253.1V272.9M1083.63 258.8V274.8M1085.13 257.0V286.5M1086.63 254.0V278.1M1088.13 258.5V276.8M1089.63 258.2V280.6M1091.13 267.9V286.5M1092.63 263.8V280.3M1094.13 254.4V282.6M1095.63 256.3V278.7M1097.13 257.9V282.8M1098.63 254.0V287.1M1100.13 255.5V282.6M1101.64 255.8V283.0M1103.14 256.2V278.4M1104.64 256.2V280.0M1106.14 264.3V281.2M1107.64 258.2V282.2M1109.14 253.9V277.3M1110.64 251.0V283.8M1112.14 258.7V279.6M1113.64 260.3V280.6M1115.14 262.7V283.2M1116.64 257.5V279.5M1118.14 257.7V288.3M1119.64 257.3V282.0M1121.14 257.6V280.2M1122.64 258.7V283.5M1124.14 261.7V284.7M1125.64 260.6V280.2M1127.15 259.5V280.6M1128.65 244.1V275.5M1130.15 250.7V276.5M1131.65 262.0V281.2M1133.15 259.8V282.3M1134.65 259.9V282.0M1136.15 259.1V280.7M1137.65 263.9V288.8M1139.15 263.8V283.9M1140.65 258.3V279.9M1142.15 251.8V280.6M1143.65 257.4V285.8M1145.15 263.5V279.3M1146.65 256.5V281.6M1148.15 258.9V286.6M1149.65 260.4V284.8M1151.15 261.9V286.9M1152.66 259.9V283.3M1154.16 267.3V280.8M1155.66 258.4V287.9M1157.16 259.7V284.5M1158.66 258.8V281.3M1160.16 260.9V284.3M1161.66 261.5V277.2M1163.16 264.3V282.8M1164.66 261.4V286.9M1166.16 260.5V285.8M1167.66 264.6V281.6M1169.16 265.4V279.0M1170.66 261.8V283.2M1172.16 264.9V283.5M1173.66 257.9V283.8M1175.16 263.4V281.3M1176.66 264.3V282.2M1178.17 264.1V281.0M1179.67 262.4V279.5M1181.17 261.9V277.7M1182.67 256.9V279.1M1184.17 262.5V277.8M1185.67 260.5V278.7M1187.17 262.7V278.2M1188.67 263.9V281.9M1190.17 260.4V279.0M1191.67 258.4V281.2M1193.17 265.8V285.8M1194.67 264.5V282.4M1196.17 261.2V284.1M1197.67 265.3V282.7M1199.17 263.4V290.7M1200.67 256.3V283.7M1202.17 260.8V282.4M1203.68 261.4V279.3M1205.18 267.0V282.3M1206.68 262.4V285.4M1208.18 262.1V284.0M1209.68 256.6V281.1M1211.18 248.5V283.2M1212.68 264.3V288.4M1214.18 255.2V278.9M1215.68 246.4V280.3M1217.18 261.6V280.2M1218.68 260.8V279.0M1220.18 262.0V285.9M1221.68 263.3V282.7M1223.18 255.5V284.2M1224.68 255.2V281.3M1226.18 255.8V283.0M1227.68 261.7V284.7M1229.19 264.7V281.5M1230.69 261.7V288.6M1232.19 261.7V288.8M1233.69 257.4V280.2M1235.19 259.6V283.8M1236.69 261.0V276.8M1238.19 266.0V283.4M1239.69 266.0V290.4M1241.19 263.5V291.1M1242.69 265.3V281.7M1244.19 262.9V284.0M1245.69 261.5V284.3M1247.19 265.8V283.4M1248.69 263.0V286.4M1250.19 261.8V284.5M1251.69 257.2V279.6M1253.19 259.0V277.0M1254.70 263.1V278.3M1256.20 264.1V279.1M1257.70 257.5V278.9M1259.20 260.7V277.6M1260.70 255.0V277.5M1262.20 261.6V283.4M1263.70 253.7V284.7M1265.20 261.0V277.1M1266.70 254.7V280.8M1268.20 255.1V281.7M1269.70 255.4V281.3M1271.20 254.8V280.7M1272.70 260.2V279.7M1274.20 258.1V279.6M1275.70 260.0V285.1M1277.20 263.1V281.2M1278.70 261.5V282.7M1280.21 257.6V280.5M1281.71 263.7V281.5M1283.21 264.6V279.6M1284.71 260.3V290.6M1286.21 264.0V280.9M1287.71 258.8V279.2M1289.21 264.5V282.1M1290.71 258.7V284.6M1292.21 261.3V279.5M1293.71 258.5V281.6M1295.21 259.4V280.1M1296.71 260.5V282.3M1298.21 266.8V285.9M1299.71 265.1V282.5M1301.21 260.6V285.2M1302.71 257.7V280.6M1304.21 256.1V281.3M1305.72 255.3V277.4M1307.22 263.8V288.7M1308.72 261.4V275.5M1310.22 252.6V282.4M1311.72 262.9V278.0M1313.22 262.1V279.9M1314.72 258.3V279.3M1316.22 261.2V277.9M1317.72 256.6V281.2M1319.22 265.8V281.8M1320.72 261.9V278.8M1322.22 259.7V278.8M1323.72 258.2V289.6M1325.22 260.5V280.2M1326.72 257.1V280.3M1328.22 261.6V279.5M1329.72 255.4V275.6M1331.23 260.8V281.0M1332.73 264.6V280.6M1334.23 262.4V277.2M1335.73 262.8V278.1M1337.23 257.2V280.6M1338.73 265.3V279.1M1340.23 260.5V282.9M1341.73 263.4V280.1M1343.23 266.5V286.0M1344.73 265.2V283.0M1346.23 261.5V282.5M1347.73 261.3V282.8M1349.23 257.8V280.1M1350.73 257.8V278.7M1352.23 265.4V282.0M1353.73 263.9V281.2M1355.23 264.3V282.6M1356.74 259.6V285.9M1358.24 254.2V285.4M1359.74 261.4V287.3M1361.24 260.8V280.6M1362.74 260.7V283.0M1364.24 263.4V282.6M1365.74 260.3V284.6M1367.24 265.3V280.7M1368.74 258.3V281.0M1370.24 264.4V287.9M1371.74 263.1V280.7M1373.24 258.9V278.8M1374.74 256.7V279.1M1376.24 255.1V279.8M1377.74 263.2V279.9M1379.24 265.7V288.4M1380.74 261.0V280.7M1382.25 263.9V281.2M1383.75 259.9V279.1M1385.25 264.5V281.4M1386.75 267.6V285.1M1388.25 261.0V283.3M1389.75 257.2V281.5M1391.25 267.6V283.6M1392.75 260.9V283.2M1394.25 260.2V281.7"/>
<path stroke="#00ff00" stroke-width="1.551" d="M118.75 287.7V360.8M120.25 291.0V349.1M121.75 287.1V363.4M123.25 270.8V355.7M124.75 293.4V362.0M126.25 284.9V361.3M127.75 285.9V332.0M129.25 288.4V345.1M130.75 271.4V328.4M132.26 283.6V340.7M133.76 285.2V331.6M135.26 278.9V327.4M136.76 285.5V358.5M138.26 270.0V348.8M139.76 282.0V334.8M141.26 290.8V326.2M142.76 292.8V329.0M144.26 283.3V362.8M145.76 292.9V327.9M147.26 292.5V346.3M148.76 291.2V335.4M150.26 286.9V348.6M151.76 289.9V336.6M153.26 288.1V356.6M154.76 287.6V359.7M156.26 293.3V354.3M157.77 289.9V355.1M159.27 279.4V360.8M160.77 290.0V325.3M162.27 290.7V364.0M163.77 295.0V359.8M165.27 296.4V367.2M166.77 289.6V354.5M168.27 292.2V363.8M169.77 287.6V328.8M171.27 290.5V354.2M172.77 285.1V354.6M174.27 293.3V368.3M175.77 288.7V330.1M177.27 283.7V335.7M178.77 291.6V339.3M180.27 284.1V352.9M181.77 292.6V339.1M183.28 289.3V326.2M184.78 290.4V333.8M186.28 290.9V336.3M187.78 279.2V363.7M189.28 293.6V350.0M190.78 295.8V361.0M192.28 278.6V335.2M193.78 286.8V334.4M195.28 280.3V361.2M196.78 286.7V347.7M198.28 287.8V359.7M199.78 283.8V352.4M201.28 293.3V341.8M202.78 288.5V343.0M204.28 286.8V346.2M205.78 276.5V348.2M207.28 293.0V347.2M208.79 291.0V341.9M210.29 292.9V342.9M211.79 292.9V345.3M213.29 292.7V354.6M214.79 293.6V330.3M216.29 292.0V328.0M217.79 287.7V361.6M219.29 292.9V355.4M220.79 288.1V347.8M222.29 285.5V363.0M223.79 274.7V344.7M225.29 284.0V343.3M226.79 282.6V367.3M228.29 294.0V369.8M229.79 284.2V350.6M231.29 291.7V346.6M232.79 289.2V356.8M234.30 292.7V359.3M235.80 292.0V350.6M237.30 293.6V340.9M238.80 287.8V335.5M240.30 277.3V344.1M241.80 294.2V333.7M243.30 293.2V355.1M244.80 294.3V331.9M246.30 291.0V328.7M247.80 291.0V356.2M249.30 280.4V333.6M250.80 284.9V329.7M252.30 287.4V344.7M253.80 281.7V340.0M255.30 294.9V359.8M256.80 288.7V344.2M258.30 285.4V324.3M259.81 292.6V335.2M261.31 291.6V327.9M262.81 288.7V344.8M264.31 293.2V368.3M265.81 293.4V333.4M267.31 287.4V335.8M268.81 284.3V319.3M270.31 285.7V348.4M271.81 286.6V350.7M273.31 285.4V359.0M274.81 280.5V359.1M276.31 285.1V335.7M277.81 286.1V361.6M279.31 275.3V326.0M280.81 288.5V338.1M282.31 283.3V338.4M283.81 288.3V361.1M285.32 287.0V347.1M286.82 288.9V332.9M288.32 290.0V360.3M289.82 294.8V329.8M291.32 297.0V367.2M292.82 288.6V366.2M294.32 292.9V363.1M295.82 295.3V337.9M297.32 293.5V339.5M298.82 290.4V341.7M300.32 299.1V341.1M301.82 293.5V339.8M303.32 298.5V363.7M304.82 291.3V337.9M306.32 286.8V334.3M307.82 293.2V340.3M309.32 291.1V349.8M310.83 292.8V329.0M312.33 292.9V342.9M313.83 281.6V357.5M315.33 294.0V352.0M316.83 289.1V336.0M318.33 291.0V332.7M319.83 287.2V348.9M321.33 291.7V344.0M322.83 293.3V345.7M324.33 293.2V340.0M325.83 281.3V352.3M327.33 287.6V329.5M328.83 285.5V353.4M330.33 282.0V345.6M331.83 294.6V351.3M333.33 291.5V366.2M334.83 288.3V356.9M336.34 287.0V325.1M337.84 274.0V359.9M339.34 281.2V342.5M340.84 289.6V336.6M342.34 282.9V325.0M343.84 276.2V356.7M345.34 289.6V330.7M346.84 286.4V336.3M348.34 288.9V350.1M349.84 287.2V335.6M351.34 291.9V343.0M352.84 285.9V330.2M354.34 291.2V328.8M355.84 295.3V331.4M357.34 291.2V329.5M358.84 295.7V356.5M360.34 291.2V363.0M361.85 288.8V359.5M363.35 284.7V338.6M364.85 285.7V362.1M366.35 292.0V366.5M367.85 268.2V321.9M369.35 285.6V348.7M370.85 288.8V357.1M372.35 289.9V340.0M373.85 286.4V344.8M375.35 287.6V338.3M376.85 284.4V342.0M378.35 286.1V329.7M379.85 278.1V325.0M381.35 288.7V364.6M382.85 288.8V364.1M384.35 281.3V322.9M385.85 284.7V352.8M387.36 284.2V360.8M388.86 288.5V335.5M390.36 291.6V354.1M391.86 284.4V356.8M393.36 281.9V334.6M394.86 288.3V343.3M396.36 278.8V330.9M397.86 278.4V335.2M399.36 284.6V331.1M400.86 286.0V332.9M402.36 284.2V341.9M403.86 294.4V344.7M405.36 290.5V360.6M406.86 294.4V330.9M408.36 292.2V338.6M409.86 295.4V364.6M411.36 295.3V347.0M412.87 295.1V361.5M414.37 292.5V367.1M415.87 280.0V328.2M417.37 290.8V329.3M418.87 286.4V340.0M420.37 282.3V346.2M421.87 291.9V355.5M423.37 274.6V327.2M424.87 283.8V328.4M426.37 284.7V337.0M427.87 287.3V338.7M429.37 282.8V344.7M430.87 273.9V345.3M432.37 294.0V354.6M433.87 290.2V340.0M435.37 286.8V345.2M436.87 292.6V336.2M438.38 294.9V345.5M439.88 296.2V374.0M441.38 294.4V355.7M442.88 296.4V362.4M444.38 296.3V341.3M445.88 288.8V341.0M447.38 284.1V347.8M448.88 294.2V341.1M450.38 286.0V347.4M451.88 292.9V325.9M453.38 292.7V342.7M454.88 290.8V334.0M456.38 289.9V337.0M457.88 276.7V354.4M459.38 290.9V361.3M460.88 291.3V325.2M462.38 292.9V367.9M463.89 289.5V324.5M465.39 289.8V345.9M466.89 285.6V362.3M468.39 281.7V343.8M469.89 280.5V356.6M471.39 290.2V331.3M472.89 288.7V355.0M474.39 292.8V342.0M475.89 291.8V335.8M477.39 287.3V362.7M478.89 284.6V347.5M480.39 291.4V346.6M481.89 290.8V347.2M483.39 284.1V346.4M484.89 289.9V360.7M486.39 295.9V368.2M487.89 290.3V352.9M489.40 292.4V348.4M490.90 283.3V334.8M492.40 283.9V356.1M493.90 292.4V343.5M495.40 290.5V329.3M496.90 291.7V362.6M498.40 292.2V352.2M499.90 281.0V349.1M501.40 287.0V352.8M502.90 282.8V333.4M504.40 290.1V360.7M505.90 289.9V357.1M507.40 280.8V360.4M508.90 289.8V339.7M510.40 292.4V346.2M511.90 286.7V335.4M513.40 294.7V333.5M514.91 270.2V340.6M516.41 292.4V338.1M517.91 292.8V353.2M519.41 277.4V363.4M520.91 289.6V357.6M522.41 289.6V329.4M523.91 290.4V355.5M525.41 288.0V331.5M526.91 271.2V360.3M528.41 282.9V355.5M529.91 289.4V361.7M531.41 290.0V367.4M532.91 292.8V326.4M534.41 284.3V365.2M535.91 299.4V369.6M537.41 296.7V341.9M538.91 294.8V356.9M540.42 282.3V357.9M541.92 280.8V361.7M543.42 292.7V336.9M544.92 290.2V330.7M546.42 291.4V350.4M547.92 296.3V350.6M549.42 295.2V347.6M550.92 290.7V356.6M552.42 293.3V333.9M553.92 289.0V361.9M555.42 288.0V365.4M556.92 287.9V352.3M558.42 284.0V345.0M559.92 290.5V330.3M561.42 287.2V340.1M562.92 289.8V344.4M564.42 288.0V348.8M565.93 261.7V348.7M567.43 279.8V324.2M568.93 266.9V350.4M570.43 280.9V336.4M571.93 280.8V351.3M573.43 282.4V357.7M574.93 286.6V360.2M576.43 285.3V327.6M577.93 289.9V329.4M579.43 292.1V335.1M580.93 284.8V346.9M582.43 292.1V359.2M583.93 292.1V343.3M585.43 291.3V329.1M586.93 275.3V365.0M588.43 290.9V353.6M589.93 288.2V339.2M591.44 288.1V326.1M592.94 285.2V344.0M594.44 290.6V363.2M595.94 285.9V355.8M597.44 268.2V324.2M598.94 284.1V360.9M600.44 289.0V355.4M601.94 286.6V334.2M603.44 276.9V336.3M604.94 276.8V357.9M606.44 289.9V321.6M607.94 288.3V354.7M609.44 290.9V356.7M610.94 283.8V356.7M612.44 285.0V347.1M613.94 284.6V324.4M615.44 288.1V351.4M616.95 286.2V331.7M618.45 294.7V350.9M619.95 292.3V343.5M621.45 296.0V357.3M622.95 297.2V368.4M624.45 295.5V338.5M625.95 297.4V372.8M627.45 301.4V366.7M628.95 294.6V370.8M630.45 294.6V364.8M631.95 294.8V348.3M633.45 296.1V351.3M634.95 295.7V345.8M636.45 290.7V368.6M637.95 294.2V367.2M639.45 293.7V345.3M640.95 284.7V349.1M642.46 282.9V341.3M643.96 283.1V340.3M645.46 290.1V349.2M646.96 291.2V366.1M648.46 290.3V325.2M649.96 288.6V336.7M651.46 288.9V363.0M652.96 288.8V325.2M654.46 275.9V347.7M655.96 290.2V348.7M657.46 284.5V358.9M658.96 287.7V332.0M660.46 288.3V366.3M661.96 286.4V323.5M663.46 288.9V359.2M664.96 291.5V361.7M666.46 291.7V355.6M667.97 286.8V329.7M669.47 288.0V345.9M670.97 292.7V363.7M672.47 294.2V353.2M673.97 292.4V345.7M675.47 288.2V330.2M676.97 294.4V351.2M678.47 292.4V326.8M679.97 293.5V366.8M681.47 288.2V337.6M682.97 294.1V331.9M684.47 291.4V353.5M685.97 289.6V359.7M687.47 292.3V354.8M688.97 294.5V340.0M690.47 291.5V328.8M691.97 283.4V353.1M693.48 287.7V344.0M694.98 292.8V369.0M696.48 291.5V331.1M697.98 289.4V339.8M699.48 290.4V328.0M700.98 287.1V357.2M702.48 289.5V323.8M703.98 290.4V334.3M705.48 292.4V357.7M706.98 294.1V334.0M708.48 292.3V337.4M709.98 289.6V342.1M711.48 288.7V325.1M712.98 288.5V362.7M714.48 289.2V324.4M715.98 287.0V337.4M717.48 288.8V325.7M718.99 282.8V348.6M720.49 289.9V356.4M721.99 287.8V361.9M723.49 293.5V359.8M724.99 291.5V344.4M726.49 290.0V358.6M727.99 289.2V331.6M729.49 293.6V365.9M730.99 280.9V362.7M732.49 286.7V347.5M733.99 296.3V342.6M735.49 295.0V347.9M736.99 289.4V365.5M738.49 296.9V337.7M739.99 289.0V365.4M741.49 274.3V322.0M742.99 287.2V332.5M744.50 284.7V365.0M746.00 284.6V357.0M747.50 285.8V346.3M749.00 278.9V332.5M750.50 285.7V340.2M752.00 286.0V324.0M753.50 286.4V331.0M755.00 280.3V356.3M756.50 288.2V326.5M758.00 283.1V363.6M759.50 291.4V364.1M761.00 292.5V336.2M762.50 291.8V334.2M764.00 288.1V338.6M765.50 288.7V362.1M767.00 289.4V325.9M768.50 278.7V360.7M770.01 284.8V355.2M771.51 284.4V348.1M773.01 275.9V329.6M774.51 291.6V357.3M776.01 284.8V345.3M777.51 279.5V330.8M779.01 273.8V361.0M780.51 283.8V355.5M782.01 277.6V351.6M783.51 288.2V357.4M785.01 286.6V358.4M786.51 294.5V346.2M788.01 292.6V340.7M789.51 288.7V367.2M791.01 289.5V345.0M792.51 282.7V330.5M794.01 288.2V352.1M795.52 292.4V340.6M797.02 294.3V364.3M798.52 281.2V335.9M800.02 285.4V333.2M801.52 284.5V327.5M803.02 285.9V329.1M804.52 288.6V360.0M806.02 285.9V354.2M807.52 290.6V330.1M809.02 292.3V358.6M810.52 282.5V342.7M812.02 292.9V359.0M813.52 287.9V329.5M815.02 293.5V343.5M816.52 289.1V340.1M818.02 287.8V354.0M819.52 288.2V329.3M821.03 281.2V354.3M822.53 280.2V330.3M824.03 280.5V344.1M825.53 288.7V341.4M827.03 287.3V347.5M828.53 292.9V339.8M830.03 291.8V326.5M831.53 290.5V340.0M833.03 292.2V362.7M834.53 287.3V346.8M836.03 283.8V346.5M837.53 288.2V325.9M839.03 285.7V356.0M840.53 290.5V327.2M842.03 277.8V321.8M843.53 286.8V335.5M845.03 292.5V361.0M846.54 282.4V352.6M848.04 292.2V346.4M849.54 295.2V356.0M851.04 294.8V342.8M852.54 292.3V346.3M854.04 291.9V323.3M855.54 273.4V350.0M857.04 286.7V340.4M858.54 297.0V364.4M860.04 290.7V370.9M861.54 294.7V346.6M863.04 280.8V331.8M864.54 296.6V347.7M866.04 294.1V369.0M867.54 286.4V343.0M869.04 287.6V354.7M870.54 292.4V332.8M872.05 291.4V330.3M873.55 288.7V321.0M875.05 288.5V363.3M876.55 289.1V339.8M878.05 282.3V334.5M879.55 281.9V340.4M881.05 290.4V357.3M882.55 288.3V358.9M884.05 272.8V346.4M885.55 289.6V352.7M887.05 294.7V365.3M888.55 282.4V352.4M890.05 290.9V337.8M891.55 270.4V346.4M893.05 281.2V337.8M894.55 287.7V332.9M896.05 290.9V337.6M897.56 288.3V354.6M899.06 284.3V328.9M900.56 292.9V365.9M902.06 294.6V353.6M903.56 294.8V371.0M905.06 292.3V366.1M906.56 295.6V339.7M908.06 293.0V337.8M909.56 293.2V364.3M911.06 286.4V325.8M912.56 287.1V340.0M914.06 294.6V350.8M915.56 287.3V334.3M917.06 292.0V348.6M918.56 293.3V360.4M920.06 295.0V355.1M921.56 295.3V331.7M923.07 293.4V352.5M924.57 297.4V357.9M926.07 294.9V354.5M927.57 296.9V361.0M929.07 297.2V333.8M930.57 292.6V347.8M932.07 289.4V326.5M933.57 290.8V349.0M935.07 289.9V345.0M936.57 291.3V340.2M938.07 291.6V356.6M939.57 289.1V322.7M941.07 289.2V353.6M942.57 292.0V354.0M944.07 293.8V362.3M945.57 291.1V333.0M947.07 293.5V364.9M948.58 276.4V328.5M950.08 291.8V325.6M951.58 293.0V329.5M953.08 288.5V343.9M954.58 287.9V363.5M956.08 282.4V326.0M957.58 292.5V347.2M959.08 292.9V353.4M960.58 276.9V351.7M962.08 279.8V358.2M963.58 290.9V341.3M965.08 275.4V330.3M966.58 281.8V365.5M968.08 287.3V347.8M969.58 292.5V364.8M971.08 289.6V351.5M972.58 268.2V361.3M974.09 287.1V347.5M975.59 289.7V357.4M977.09 290.8V360.6M978.59 291.1V358.5M980.09 294.4V369.9M981.59 290.8V352.7M983.09 283.6V359.5M984.59 290.3V348.4M986.09 279.1V339.0M987.59 280.8V325.6M989.09 285.8V356.4M990.59 289.2V365.3M992.09 295.1V348.2M993.59 294.6V334.7M995.09 293.6V366.9M996.59 289.8V370.7M998.09 298.2V344.0M999.60 292.1V330.2M1001.10 290.6V363.8M1002.60 286.1V362.1M1004.10 284.0V356.7M1005.60 280.8V354.2M1007.10 291.1V337.5M1008.60 285.7V338.5M1010.10 285.5V331.0M1011.60 282.4V323.2M1013.10 278.5V360.3M1014.60 285.5V346.7M1016.10 285.6V350.3M1017.60 288.5V353.6M1019.10 269.8V330.0M1020.60 293.2V335.8M1022.10 289.0V339.6M1023.60 293.4V340.2M1025.11 291.2V347.7M1026.61 276.1V355.4M1028.11 281.3V349.2M1029.61 289.9V330.1M1031.11 284.8V326.5M1032.61 288.3V358.0M1034.11 276.2V335.9M1035.61 289.4V340.8M1037.11 290.6V334.3M1038.61 290.6V352.3M1040.11 283.8V352.4M1041.61 282.8V361.5M1043.11 283.1V367.5M1044.61 289.9V365.7M1046.11 275.2V332.7M1047.61 290.2V335.2M1049.11 278.8V341.5M1050.62 290.4V345.8M1052.12 291.1V339.6M1053.62 280.9V336.1M1055.12 295.3V369.6M1056.62 285.8V359.5M1058.12 282.4V338.3M1059.62 286.7V346.3M1061.12 274.0V337.6M1062.62 279.6V327.4M1064.12 286.9V343.0M1065.62 285.0V359.4M1067.12 293.5V368.9M1068.62 289.9V341.9M1070.12 289.9V339.7M1071.62 293.9V335.9M1073.12 294.7V330.8M1074.62 292.4V344.5M1076.13 297.5V372.9M1077.63 286.3V346.7M1079.13 293.1V334.6M1080.63 290.3V330.3M1082.13 287.9V332.1M1083.63 287.6V333.5M1085.13 290.7V325.6M1086.63 292.8V333.4M1088.13 289.3V336.9M1089.63 281.3V337.9M1091.13 279.9V346.5M1092.63 291.7V367.4M1094.13 293.6V345.4M1095.63 284.4V362.7M1097.13 297.6V343.2M1098.63 291.2V340.2M1100.13 292.4V328.5M1101.64 278.0V340.0M1103.14 293.9V348.2M1104.64 291.3V337.8M1106.14 291.3V331.3M1107.64 289.5V338.7M1109.14 288.6V339.0M1110.64 291.3V361.2M1112.14 294.0V367.7M1113.64 291.9V351.4M1115.14 296.0V341.6M1116.64 295.5V326.6M1118.14 285.5V326.1M1119.64 291.4V337.8M1121.14 286.2V354.2M1122.64 293.8V331.3M1124.14 293.4V357.3M1125.64 290.0V357.2M1127.15 288.1V370.0M1128.65 295.3V329.1M1130.15 290.6V344.2M1131.65 294.2V363.8M1133.15 288.6V348.3M1134.65 291.9V356.4M1136.15 283.1V361.4M1137.65 288.1V360.1M1139.15 293.9V342.7M1140.65 288.4V367.3M1142.15 291.9V345.6M1143.65 286.8V328.2M1145.15 293.9V344.1M1146.65 293.7V345.4M1148.15 275.1V326.8M1149.65 274.8V325.4M1151.15 288.3V325.2M1152.66 291.9V366.1M1154.16 291.7V356.0M1155.66 289.4V355.8M1157.16 292.5V345.6M1158.66 293.4V335.2M1160.16 287.7V364.4M1161.66 280.8V347.0M1163.16 285.5V321.0M1164.66 282.9V322.4M1166.16 283.7V340.9M1167.66 293.9V342.0M1169.16 281.3V358.6M1170.66 288.1V348.8M1172.16 292.6V330.8M1173.66 291.0V370.0M1175.16 294.1V368.6M1176.66 275.5V357.6M1178.17 293.3V359.1M1179.67 292.8V366.4M1181.17 293.7V363.2M1182.67 286.1V367.6M1184.17 272.2V326.4M1185.67 288.1V361.3M1187.17 291.4V344.1M1188.67 288.8V329.0M1190.17 284.6V358.3M1191.67 282.1V336.1M1193.17 287.3V344.8M1194.67 289.1V329.8M1196.17 291.5V331.8M1197.67 292.4V327.1M1199.17 284.4V362.0M1200.67 289.2V354.5M1202.17 285.1V355.1M1203.68 279.8V362.1M1205.18 289.2V344.1M1206.68 292.3V350.2M1208.18 295.2V361.4M1209.68 292.3V359.0M1211.18 295.6V346.1M1212.68 292.5V339.0M1214.18 295.6V363.4M1215.68 292.8V369.6M1217.18 298.0V352.8M1218.68 298.4V366.6M1220.18 287.6V329.3M1221.68 296.5V362.8M1223.18 292.8V347.7M1224.68 291.7V353.0M1226.18 295.5V362.9M1227.68 290.3V367.1M1229.19 288.6V333.6M1230.69 287.5V335.7M1232.19 294.0V341.9M1233.69 294.0V371.2M1235.19 294.8V334.2M1236.69 283.3V329.5M1238.19 290.1V351.2M1239.69 291.8V342.1M1241.19 286.8V333.3M1242.69 287.0V368.3M1244.19 289.0V332.9M1245.69 276.0V331.0M1247.19 288.6V366.9M1248.69 270.7V363.4M1250.19 280.0V353.2M1251.69 284.2V335.2M1253.19 290.2V327.4M1254.70 286.3V351.3M1256.20 290.0V356.3M1257.70 289.2V339.6M1259.20 290.7V345.9M1260.70 286.4V351.3M1262.20 288.1V329.2M1263.70 288.6V327.4M1265.20 285.7V326.2M1266.70 288.2V351.4M1268.20 287.1V338.9M1269.70 287.6V364.6M1271.20 283.3V327.6M1272.70 283.1V344.4M1274.20 288.2V361.7M1275.70 289.5V334.4M1277.20 282.8V340.2M1278.70 286.4V353.8M1280.21 283.2V349.8M1281.71 290.7V330.1M1283.21 288.9V354.0M1284.71 287.6V358.6M1286.21 286.5V355.9M1287.71 287.7V360.0M1289.21 272.6V354.3M1290.71 281.4V366.8M1292.21 280.4V350.0M1293.71 289.7V330.2M1295.21 287.9V362.0M1296.71 272.0V359.4M1298.21 275.5V329.1M1299.71 290.8V350.0M1301.21 290.4V325.9M1302.71 274.3V356.3M1304.21 287.0V352.6M1305.72 289.2V345.6M1307.22 271.0V350.4M1308.72 293.5V337.4M1310.22 284.1V331.1M1311.72 298.1V355.8M1313.22 289.2V362.7M1314.72 292.9V331.3M1316.22 290.6V361.5M1317.72 283.2V327.4M1319.22 291.9V353.9M1320.72 291.6V332.4M1322.22 285.5V366.4M1323.72 289.3V363.3M1325.22 296.3V345.1M1326.72 288.7V370.3M1328.22 290.9V330.1M1329.72 289.2V368.9M1331.23 296.1V329.6M1332.73 295.2V345.9M1334.23 293.2V340.1M1335.73 285.8V361.6M1337.23 288.5V336.7M1338.73 291.0V357.4M1340.23 290.1V337.7M1341.73 288.0V360.4M1343.23 289.5V350.8M1344.73 291.0V327.1M1346.23 293.6V351.9M1347.73 281.1V335.7M1349.23 289.5V360.5M1350.73 289.3V326.5M1352.23 287.8V332.2M1353.73 283.6V333.7M1355.23 286.7V362.1M1356.74 289.7V358.5M1358.24 281.9V358.2M1359.74 290.3V352.5M1361.24 288.1V359.9M1362.74 297.3V342.1M1364.24 296.4V338.5M1365.74 294.3V352.7M1367.24 294.4V344.0M1368.74 293.0V366.6M1370.24 288.0V357.1M1371.74 293.9V349.5M1373.24 291.6V369.1M1374.74 294.2V333.7M1376.24 288.7V329.4M1377.74 292.0V356.7M1379.24 294.3V361.9M1380.74 293.3V361.4M1382.25 290.4V354.4M1383.75 293.2V366.3M1385.25 293.8V359.0M1386.75 290.4V351.9M1388.25 285.5V359.7M1389.75 287.0V336.1M1391.25 290.0V359.6M1392.75 292.7V368.6M1394.25 295.4V343.1"/>
<path stroke="#ffff00" stroke-width="1.551" d="M118.75 275.7V299.4M120.25 261.7V302.9M121.75 263.3V292.0M123.25 260.1V295.4M124.75 276.9V294.1M126.25 273.4V293.8M127.75 278.4V296.3M129.25 263.9V297.2M130.75 254.8V298.6M132.26 259.2V293.5M133.76 263.9V295.5M135.26 271.8V309.2M136.76 257.7V309.7M138.26 270.5V295.0M139.76 261.3V298.3M141.26 274.8V296.2M142.76 267.6V307.1M144.26 272.0V300.7M145.76 272.5V294.3M147.26 273.6V296.1M148.76 266.5V297.3M150.26 266.0V298.0M151.76 253.5V296.1M153.26 275.5V297.4M154.76 257.1V301.3M156.26 256.8V296.2M157.77 269.9V294.5M159.27 271.2V306.3M160.77 267.2V299.4M162.27 266.6V304.1M163.77 269.5V302.8M165.27 264.7V302.3M166.77 270.2V293.8M168.27 273.5V295.2M169.77 263.0V311.6M171.27 255.8V291.7M172.77 265.7V297.8M174.27 275.1V313.6M175.77 256.0V296.3M177.27 267.6V295.9M178.77 259.3V293.4M180.27 252.5V294.1M181.77 256.5V296.1M183.28 255.7V295.3M184.78 251.8V298.0M186.28 265.6V300.7M187.78 273.5V293.6M189.28 266.0V294.3M190.78 267.6V291.3M192.28 271.2V294.2M193.78 264.1V301.0M195.28 260.8V295.8M196.78 262.8V297.5M198.28 261.2V296.0M199.78 272.4V294.1M201.28 274.9V294.9M202.78 263.9V295.5M204.28 260.3V294.3M205.78 258.9V294.1M207.28 252.8V295.8M208.79 260.6V301.7M210.29 256.9V306.2M211.79 259.1V299.5M213.29 266.2V302.6M214.79 255.5V298.3M216.29 259.1V302.0M217.79 255.1V301.6M219.29 252.7V297.3M220.79 266.7V297.3M222.29 266.1V304.3M223.79 260.3V299.2M225.29 275.5V309.3M226.79 254.7V296.1M228.29 276.4V310.0M229.79 265.5V298.1M231.29 265.6V298.6M232.79 276.1V303.0M234.30 263.5V302.4M235.80 254.6V303.4M237.30 275.7V295.0M238.80 279.6V310.1M240.30 265.0V296.4M241.80 271.5V298.0M243.30 254.3V290.9M244.80 271.1V295.1M246.30 261.3V293.6M247.80 272.4V290.5M249.30 271.4V298.9M250.80 264.3V294.9M252.30 262.9V298.1M253.80 269.3V305.1M255.30 260.1V297.8M256.80 253.5V293.9M258.30 275.6V308.2M259.81 256.2V304.7M261.31 254.4V294.2M262.81 256.6V311.6M264.31 263.8V293.3M265.81 254.6V294.9M267.31 265.0V303.9M268.81 255.0V295.4M270.31 256.0V293.4M271.81 274.0V292.8M273.31 260.4V294.0M274.81 274.6V299.3M276.31 251.3V293.1M277.81 254.1V296.8M279.31 259.3V294.0M280.81 266.9V308.8M282.31 255.4V294.8M283.81 278.1V296.0M285.32 272.9V297.7M286.82 254.6V295.1M288.32 266.5V297.4M289.82 265.9V290.9M291.32 256.2V302.8M292.82 264.1V296.2M294.32 258.0V294.4M295.82 253.2V295.9M297.32 275.1V296.6M298.82 272.9V301.0M300.32 257.8V295.7M301.82 274.7V295.0M303.32 263.7V296.3M304.82 258.8V298.5M306.32 269.9V306.7M307.82 252.0V302.0M309.32 271.1V294.1M310.83 262.7V296.4M312.33 263.3V294.4M313.83 255.3V298.5M315.33 271.3V302.6M316.83 252.0V298.8M318.33 258.4V295.0M319.83 255.3V300.9M321.33 251.9V297.3M322.83 275.4V293.9M324.33 269.3V302.3M325.83 272.6V301.8M327.33 277.4V299.9M328.83 269.6V299.1M330.33 253.5V294.9M331.83 275.6V295.3M333.33 263.6V304.1M334.83 272.7V297.8M336.34 265.8V296.0M337.84 262.7V298.9M339.34 276.5V292.6M340.84 267.5V292.5M342.34 270.0V307.2M343.84 258.4V293.2M345.34 256.6V292.0M346.84 274.0V295.5M348.34 256.8V296.6M349.84 252.6V301.2M351.34 275.4V298.3M352.84 265.7V302.9M354.34 274.7V295.7M355.84 256.2V294.7M357.34 272.6V294.7M358.84 260.8V296.3M360.34 259.5V302.6M361.85 271.6V292.9M363.35 264.1V294.6M364.85 271.2V296.3M366.35 259.6V297.8M367.85 258.9V295.8M369.35 265.2V302.6M370.85 271.6V294.5M372.35 266.1V311.5M373.85 260.2V294.3M375.35 262.7V296.9M376.85 274.1V291.8M378.35 255.8V292.5M379.85 268.3V295.0M381.35 276.1V294.8M382.85 251.1V296.3M384.35 255.6V291.8M385.85 249.0V294.0M387.36 260.3V297.2M388.86 249.9V292.4M390.36 251.0V289.8M391.86 257.0V291.4M393.36 270.7V293.7M394.86 256.8V291.8M396.36 272.5V298.6M397.86 274.1V296.9M399.36 259.0V302.5M400.86 267.7V293.2M402.36 261.6V304.3M403.86 267.7V292.8M405.36 265.7V299.0M406.86 275.0V309.4M408.36 260.9V298.5M409.86 271.1V293.1M411.36 270.2V290.7M412.87 270.3V293.3M414.37 259.6V291.0M415.87 275.0V297.3M417.37 249.8V291.8M418.87 268.7V291.6M420.37 261.2V291.8M421.87 253.7V302.7M423.37 253.2V301.9M424.87 268.3V305.6M426.37 259.9V301.8M427.87 269.4V300.0M429.37 271.8V300.8M430.87 278.4V297.9M432.37 258.5V294.1M433.87 266.8V302.6M435.37 270.4V300.6M436.87 275.7V296.8M438.38 258.8V299.4M439.88 255.6V304.3M441.38 254.7V294.0M442.88 264.6V298.1M444.38 265.4V301.1M445.88 268.9V297.2M447.38 263.5V293.1M448.88 264.7V300.9M450.38 260.7V292.6M451.88 256.2V306.7M453.38 262.7V306.8M454.88 258.4V291.8M456.38 257.7V298.2M457.88 267.7V292.2M459.38 268.8V295.0M460.88 269.4V291.6M462.38 253.9V310.9M463.89 258.2V298.9M465.39 254.6V296.5M466.89 256.8V299.1M468.39 259.6V294.4M469.89 271.4V300.1M471.39 267.4V293.4M472.89 269.1V294.0M474.39 258.1V295.4M475.89 264.5V312.4M477.39 276.1V311.0M478.89 272.6V297.7M480.39 261.8V295.2M481.89 266.3V295.5M483.39 258.0V306.2M484.89 257.6V293.3M486.39 262.7V295.7M487.89 253.0V294.4M489.40 270.0V292.9M490.90 258.9V296.1M492.40 271.1V297.8M493.90 265.0V303.6M495.40 272.5V295.7M496.90 250.5V291.5M498.40 255.4V295.6M499.90 258.8V297.0M501.40 253.1V296.3M502.90 274.2V295.3M504.40 270.5V301.9M505.90 261.7V301.6M507.40 266.5V309.7M508.90 258.5V294.3M510.40 268.6V303.5M511.90 277.4V294.6M513.40 254.5V291.7M514.91 270.8V300.4M516.41 265.8V293.3M517.91 250.9V293.3M519.41 253.7V295.3M520.91 265.1V304.3M522.41 262.4V300.8M523.91 257.3V296.3M525.41 263.6V297.0M526.91 268.4V295.2M528.41 266.6V289.9M529.91 251.8V299.3M531.41 259.9V295.7M532.91 271.5V303.0M534.41 271.8V302.8M535.91 259.6V299.4M537.41 255.6V294.5M538.91 272.0V291.7M540.42 275.7V295.2M541.92 261.7V296.0M543.42 266.8V293.6M544.92 254.4V303.6M546.42 266.6V298.3M547.92 269.6V305.0M549.42 252.3V294.6M550.92 261.0V293.0M552.42 249.4V291.2M553.92 260.0V296.4M555.42 272.6V295.4M556.92 268.7V302.6M558.42 259.1V298.2M559.92 270.1V309.4M561.42 274.1V292.7M562.92 257.4V293.2M564.42 251.4V300.7M565.93 253.3V292.3M567.43 251.9V299.9M568.93 267.1V293.2M570.43 261.4V293.2M571.93 273.0V297.8M573.43 269.7V293.9M574.93 275.4V293.5M576.43 268.5V303.6M577.93 253.2V298.2M579.43 264.3V300.1M580.93 258.4V305.1M582.43 266.9V303.1M583.93 260.6V309.5M585.43 253.0V305.7M586.93 257.3V299.7M588.43 256.5V296.7M589.93 253.4V300.2M591.44 260.7V294.4M592.94 274.6V305.0M594.44 251.1V294.5M595.94 270.2V300.9M597.44 258.9V296.0M598.94 272.2V313.2M600.44 262.4V297.7M601.94 266.3V295.1M603.44 264.6V299.4M604.94 264.2V296.0M606.44 250.2V293.1M607.94 251.1V292.8M609.44 266.6V291.9M610.94 269.2V293.2M612.44 256.6V293.4M613.94 274.4V302.8M615.44 251.1V295.7M616.95 261.8V309.4M618.45 254.3V294.8M619.95 267.4V299.4M621.45 272.9V300.5M622.95 273.4V295.5M624.45 261.6V293.7M625.95 274.7V300.8M627.45 265.0V296.7M628.95 259.5V305.5M630.45 276.1V294.3M631.95 275.1V307.3M633.45 262.7V298.2M634.95 267.8V298.2M636.45 259.6V300.4M637.95 275.7V304.0M639.45 267.8V296.9M640.95 256.6V295.2M642.46 258.6V296.8M643.96 258.5V301.0M645.46 274.6V299.2M646.96 253.2V297.7M648.46 250.4V292.4M649.96 254.7V303.5M651.46 269.8V296.5M652.96 260.0V294.1M654.46 268.5V305.9M655.96 270.0V297.2M657.46 252.1V305.4M658.96 255.9V297.5M660.46 251.9V295.4M661.96 265.2V301.9M663.46 270.6V302.4M664.96 273.3V291.9M666.46 258.8V294.3M667.97 259.7V305.8M669.47 260.6V298.3M670.97 275.4V297.9M672.47 255.0V295.6M673.97 262.7V293.4M675.47 256.7V296.0M676.97 253.8V294.6M678.47 267.1V299.7M679.97 266.0V295.2M681.47 275.0V306.5M682.97 275.3V297.5M684.47 249.6V290.9M685.97 266.2V297.1M687.47 262.1V292.0M688.97 248.4V290.3M690.47 261.1V300.6M691.97 274.2V295.2M693.48 257.5V305.1M694.98 253.2V298.6M696.48 252.4V299.3M697.98 265.4V294.7M699.48 272.6V299.1M700.98 260.9V300.2M702.48 265.6V296.0M703.98 255.2V294.9M705.48 257.4V300.4M706.98 266.8V294.1M708.48 264.4V295.4M709.98 270.4V299.7M711.48 274.4V297.7M712.98 269.5V294.6M714.48 262.3V301.8M715.98 265.0V301.6M717.48 268.1V295.4M718.99 266.1V294.7M720.49 268.6V294.5M721.99 270.4V296.2M723.49 267.9V313.7M724.99 270.9V300.8M726.49 264.5V297.6M727.99 277.3V297.4M729.49 255.6V304.8M730.99 257.6V295.3M732.49 265.8V308.5M733.99 268.1V296.6M735.49 271.8V296.5M736.99 272.2V310.5M738.49 255.7V299.0M739.99 253.5V292.3M741.49 269.4V296.6M742.99 252.2V293.3M744.50 272.5V298.4M746.00 263.1V311.9M747.50 269.8V302.4M749.00 256.3V294.1M750.50 269.9V298.5M752.00 274.8V296.7M753.50 269.9V293.5M755.00 270.8V301.2M756.50 268.0V301.4M758.00 279.8V297.5M759.50 255.4V299.0M761.00 273.1V308.4M762.50 255.7V306.4M764.00 260.2V300.9M765.50 277.7V295.8M767.00 263.8V293.7M768.50 255.5V295.4M770.01 253.6V304.3M771.51 271.3V293.5M773.01 270.3V294.1M774.51 260.4V297.4M776.01 251.2V294.0M777.51 275.5V294.2M779.01 258.8V295.8M780.51 258.9V297.9M782.01 268.4V293.4M783.51 273.6V293.0M785.01 267.6V297.9M786.51 271.6V293.6M788.01 271.3V297.9M789.51 275.1V292.8M791.01 266.5V305.0M792.51 249.1V292.3M794.01 247.5V290.3M795.52 262.7V301.6M797.02 267.6V296.7M798.52 253.9V292.5M800.02 273.0V294.5M801.52 272.3V294.3M803.02 257.3V298.7M804.52 272.9V293.3M806.02 267.7V294.8M807.52 259.0V293.2M809.02 271.8V294.2M810.52 272.8V313.1M812.02 270.1V301.8M813.52 253.2V296.1M815.02 278.4V305.3M816.52 258.0V300.0M818.02 261.4V295.0M819.52 257.1V292.5M821.03 260.7V303.1M822.53 265.6V297.6M824.03 255.5V296.5M825.53 262.2V303.0M827.03 264.6V298.6M828.53 258.7V302.7M830.03 257.4V296.4M831.53 272.4V297.3M833.03 263.0V297.5M834.53 272.8V305.5M836.03 258.5V296.2M837.53 251.4V295.2M839.03 263.5V308.4M840.53 262.2V294.6M842.03 268.1V295.3M843.53 259.0V292.9M845.03 252.4V309.6M846.54 275.0V293.7M848.04 258.9V293.0M849.54 261.0V310.3M851.04 260.1V292.0M852.54 266.9V295.2M854.04 258.5V297.9M855.54 267.3V301.8M857.04 260.5V295.1M858.54 271.5V301.9M860.04 275.1V303.7M861.54 253.4V294.8M863.04 263.8V300.6M864.54 269.0V296.7M866.04 252.4V295.2M867.54 259.1V311.4M869.04 253.6V293.5M870.54 264.9V293.9M872.05 269.9V289.9M873.55 257.9V296.8M875.05 260.9V296.4M876.55 264.4V304.3M878.05 269.7V294.6M879.55 270.6V296.0M881.05 275.9V293.0M882.55 266.9V297.3M884.05 258.8V300.6M885.55 267.5V301.7M887.05 266.5V298.9M888.55 253.5V309.6M890.05 269.4V291.8M891.55 261.8V291.8M893.05 261.5V292.9M894.55 269.0V294.6M896.05 252.6V295.4M897.56 252.0V289.9M899.06 254.1V297.6M900.56 250.3V290.6M902.06 259.4V293.2M903.56 263.9V296.8M905.06 263.4V310.2M906.56 261.3V302.5M908.06 268.1V297.6M909.56 263.0V301.8M911.06 260.2V302.2M912.56 278.9V302.1M914.06 276.2V295.5M915.56 265.1V302.0M917.06 252.4V299.1M918.56 269.0V298.3M920.06 253.2V295.5M921.56 263.0V297.9M923.07 259.3V309.0M924.57 268.6V303.2M926.07 277.8V298.6M927.57 270.6V297.0M929.07 275.6V298.9M930.57 270.4V306.4M932.07 262.9V300.2M933.57 257.8V298.5M935.07 268.6V294.4M936.57 268.0V299.9M938.07 272.4V304.7M939.57 261.0V295.6M941.07 264.9V293.3M942.57 252.1V296.1M944.07 254.2V293.9M945.57 261.8V305.9M947.07 267.4V292.0M948.58 260.5V294.2M950.08 263.7V297.6M951.58 253.3V305.5M953.08 264.1V300.9M954.58 264.7V297.0M956.08 272.6V298.7M957.58 270.9V308.9M959.08 266.0V296.3M960.58 260.0V293.0M962.08 252.9V297.5M963.58 272.3V303.6M965.08 265.4V293.6M966.58 252.1V294.0M968.08 268.8V296.2M969.58 253.9V293.2M971.08 271.1V293.0M972.58 253.8V291.5M974.09 271.1V300.6M975.59 259.3V300.5M977.09 249.3V292.4M978.59 255.9V306.0M980.09 250.6V298.0M981.59 267.6V292.2M983.09 263.0V295.7M984.59 260.6V302.1M986.09 270.0V296.9M987.59 259.5V305.6M989.09 264.8V293.2M990.59 257.1V296.5M992.09 270.8V297.1M993.59 251.9V294.2M995.09 268.2V304.4M996.59 259.5V295.1M998.09 248.3V290.1M999.60 268.5V306.7M1001.10 248.1V297.8M1002.60 265.2V294.7M1004.10 268.3V295.8M1005.60 253.0V303.6M1007.10 253.4V290.3M1008.60 264.4V295.1M1010.10 254.3V291.4M1011.60 258.4V290.7M1013.10 265.7V310.5M1014.60 264.6V293.1M1016.10 248.0V300.8M1017.60 250.7V295.5M1019.10 267.7V290.8M1020.60 268.5V290.1M1022.10 257.6V306.4M1023.60 261.2V292.8M1025.11 251.0V291.2M1026.61 256.6V298.9M1028.11 266.8V295.1M1029.61 269.1V294.2M1031.11 269.3V299.8M1032.61 262.0V298.3M1034.11 262.9V309.3M1035.61 260.9V293.6M1037.11 268.0V294.2M1038.61 266.6V303.3M1040.11 267.2V297.7M1041.61 254.4V294.7M1043.11 264.9V303.8M1044.61 256.0V297.9M1046.11 268.7V311.8M1047.61 254.4V313.0M1049.11 278.2V298.6M1050.62 255.5V294.0M1052.12 268.7V294.1M1053.62 273.6V294.0M1055.12 276.3V294.8M1056.62 259.0V298.8M1058.12 269.2V298.7M1059.62 270.8V303.5M1061.12 265.6V301.2M1062.62 257.6V294.3M1064.12 253.4V297.0M1065.62 267.9V290.8M1067.12 261.7V300.4M1068.62 267.5V311.5M1070.12 266.2V294.2M1071.62 269.7V308.0M1073.12 266.2V293.2M1074.62 255.9V302.3M1076.13 268.3V293.6M1077.63 274.2V296.1M1079.13 268.4V293.3M1080.63 254.8V298.0M1082.13 264.3V292.5M1083.63 257.5V293.1M1085.13 273.1V301.0M1086.63 259.6V299.0M1088.13 271.5V295.0M1089.63 276.9V299.8M1091.13 279.5V303.4M1092.63 259.8V290.9M1094.13 277.0V294.8M1095.63 263.4V297.7M1097.13 274.0V304.6M1098.63 261.0V293.8M1100.13 263.0V295.0M1101.64 263.6V297.7M1103.14 262.0V293.1M1104.64 251.3V307.4M1106.14 252.2V302.0M1107.64 259.7V298.5M1109.14 252.7V300.9M1110.64 256.2V299.6M1112.14 272.8V301.6M1113.64 255.3V302.1M1115.14 265.2V293.0M1116.64 254.2V297.7M1118.14 256.8V294.6M1119.64 266.7V297.3M1121.14 251.6V301.3M1122.64 254.2V295.6M1124.14 263.1V293.9M1125.64 260.8V299.7M1127.15 272.0V295.2M1128.65 273.7V294.4M1130.15 275.7V292.3M1131.65 261.2V294.1M1133.15 263.1V295.3M1134.65 275.8V297.5M1136.15 272.8V299.4M1137.65 266.4V298.1M1139.15 262.9V299.5M1140.65 254.6V291.5M1142.15 262.3V297.9M1143.65 253.9V297.4M1145.15 265.8V291.9M1146.65 262.8V296.3M1148.15 253.3V302.8M1149.65 270.5V302.6M1151.15 265.0V297.9M1152.66 276.6V298.4M1154.16 259.6V296.4M1155.66 255.6V301.3M1157.16 274.1V297.5M1158.66 261.4V303.5M1160.16 252.9V293.0M1161.66 264.5V302.7M1163.16 273.0V295.7M1164.66 267.9V299.1M1166.16 251.3V298.7M1167.66 254.3V291.7M1169.16 262.2V292.3M1170.66 256.5V295.0M1172.16 264.8V290.2M1173.66 268.1V297.5M1175.16 271.9V290.9M1176.66 262.8V295.4M1178.17 263.9V293.8M1179.67 272.4V298.7M1181.17 274.0V302.0M1182.67 254.4V296.2M1184.17 271.3V297.1M1185.67 267.2V296.2M1187.17 273.5V291.1M1188.67 254.4V292.8M1190.17 253.4V301.8M1191.67 264.4V305.2M1193.17 266.1V296.1M1194.67 256.6V295.7M1196.17 277.1V298.4M1197.67 274.1V293.4M1199.17 264.9V294.0M1200.67 273.6V297.5M1202.17 259.3V297.9M1203.68 272.7V299.1M1205.18 257.6V297.2M1206.68 274.8V294.5M1208.18 267.6V295.6M1209.68 257.6V293.4M1211.18 265.6V293.3M1212.68 258.1V293.4M1214.18 266.1V293.8M1215.68 252.3V292.9M1217.18 250.9V309.2M1218.68 271.7V296.2M1220.18 271.0V294.3M1221.68 261.7V292.1M1223.18 268.4V298.4M1224.68 254.8V302.2M1226.18 276.4V297.1M1227.68 252.3V296.0M1229.19 267.2V304.9M1230.69 261.7V296.4M1232.19 255.1V296.7M1233.69 273.6V292.0M1235.19 266.2V292.5M1236.69 261.1V291.1M1238.19 272.5V292.9M1239.69 275.1V294.2M1241.19 262.3V297.4M1242.69 267.0V295.3M1244.19 258.5V299.2M1245.69 266.1V307.7M1247.19 266.3V295.3M1248.69 273.8V303.8M1250.19 268.9V298.1M1251.69 258.3V299.4M1253.19 272.1V296.4M1254.70 274.5V297.6M1256.20 270.2V294.8M1257.70 256.8V298.4M1259.20 263.7V295.2M1260.70 256.7V304.3M1262.20 264.4V297.2M1263.70 279.2V301.9M1265.20 267.2V306.3M1266.70 260.0V294.8M1268.20 267.5V298.7M1269.70 259.4V294.9M1271.20 251.5V295.5M1272.70 266.6V297.2M1274.20 268.4V293.7M1275.70 262.7V290.7M1277.20 252.8V291.8M1278.70 262.0V297.9M1280.21 259.3V299.6M1281.71 252.0V296.2M1283.21 267.2V289.7M1284.71 265.7V291.2M1286.21 260.6V294.4M1287.71 266.3V292.9M1289.21 275.8V298.7M1290.71 267.8V301.1M1292.21 251.1V293.7M1293.71 259.8V299.5M1295.21 276.8V296.4M1296.71 263.1V295.8M1298.21 269.7V296.9M1299.71 276.4V293.8M1301.21 257.9V293.9M1302.71 255.0V305.8M1304.21 258.1V294.5M1305.72 272.2V309.3M1307.22 257.8V296.6M1308.72 253.7V303.7M1310.22 272.7V299.9M1311.72 277.5V298.2M1313.22 271.1V300.7M1314.72 253.6V295.1M1316.22 256.2V294.3M1317.72 265.5V297.4M1319.22 261.9V298.4M1320.72 261.7V300.8M1322.22 262.3V292.1M1323.72 254.5V299.0M1325.22 250.3V295.9M1326.72 261.6V295.8M1328.22 257.2V295.0M1329.72 271.0V293.1M1331.23 261.0V294.3M1332.73 267.3V294.7M1334.23 270.2V299.4M1335.73 255.0V293.3M1337.23 272.2V296.2M1338.73 275.4V294.5M1340.23 269.1V294.1M1341.73 270.7V304.5M1343.23 257.2V301.4M1344.73 272.4V300.8M1346.23 262.4V299.7M1347.73 257.5V298.3M1349.23 270.2V300.3M1350.73 260.4V295.9M1352.23 273.6V293.8M1353.73 262.2V294.7M1355.23 263.6V296.1M1356.74 268.7V295.2M1358.24 258.5V296.3M1359.74 277.1V299.2M1361.24 260.8V301.9M1362.74 258.0V310.0M1364.24 268.4V298.1M1365.74 268.5V303.6M1367.24 256.3V295.6M1368.74 270.4V295.2M1370.24 276.5V297.8M1371.74 254.5V311.9M1373.24 272.0V296.2M1374.74 261.3V300.3M1376.24 275.2V291.9M1377.74 274.7V299.5M1379.24 256.0V300.3M1380.74 266.8V294.2M1382.25 252.0V301.1M1383.75 277.2V295.7M1385.25 258.4V296.6M1386.75 274.6V303.3M1388.25 268.6V291.6M1389.75 253.0V297.6M1391.25 268.3V293.3M1392.75 276.6V302.8M1394.25 276.0V301.1"/>
<path stroke="#c080ff" stroke-width="1.551" d="M118.75 373.8V422.3M120.25 368.4V417.6M121.75 367.6V412.5M123.25 374.5V424.9M124.75 369.9V417.1M126.25 357.3V413.6M127.75 370.5V420.5M129.25 366.3V409.2M130.75 376.6V425.6M132.26 370.8V429.3M133.76 363.9V415.0M135.26 348.0V412.8M136.76 371.4V419.8M138.26 367.0V424.9M139.76 350.2V408.1M141.26 352.8V408.7M142.76 345.9V398.2M144.26 353.5V399.3M145.76 340.4V399.6M147.26 350.2V411.5M148.76 360.0V419.9M150.26 355.1V400.9M151.76 357.7V415.4M153.26 360.9V404.8M154.76 365.1V412.7M156.26 353.6V417.0M157.77 363.1V416.3M159.27 371.0V429.6M160.77 361.9V415.5M162.27 365.6V417.4M163.77 365.6V409.2M165.27 365.8V434.5M166.77 373.2V424.0M168.27 356.3V414.7M169.77 374.2V421.4M171.27 359.1V410.1M172.77 361.1V407.0M174.27 359.9V427.2M175.77 353.9V408.7M177.27 371.7V419.7M178.77 365.5V416.6M180.27 371.8V422.6M181.77 366.3V413.8M183.28 371.4V424.1M184.78 364.4V419.1M186.28 365.2V415.4M187.78 363.6V420.3M189.28 366.8V420.0M190.78 344.8V399.5M192.28 342.4V384.7M193.78 335.2V378.0M195.28 331.7V370.7M196.78 333.5V380.4M198.28 330.7V390.0M199.78 348.4V385.4M201.28 333.6V386.6M202.78 354.6V391.6M204.28 344.6V384.1M205.78 338.9V386.6M207.28 328.6V370.7M208.79 334.5V378.0M210.29 333.9V373.7M211.79 320.3V377.6M213.29 368.6V412.2M214.79 354.3V410.2M216.29 370.5V413.3M217.79 354.6V420.7M219.29 361.4V415.2M220.79 369.2V413.5M222.29 359.1V424.0M223.79 361.4V420.4M225.29 373.6V429.1M226.79 374.2V417.5M228.29 369.9V424.1M229.79 371.3V439.2M231.29 380.5V431.5M232.79 381.3V431.4M234.30 382.3V445.2M235.80 378.0V433.7M237.30 382.4V427.0M238.80 365.3V420.4M240.30 379.3V422.5M241.80 376.0V422.4M243.30 372.9V420.4M244.80 363.1V415.8M246.30 344.2V406.5M247.80 370.3V418.5M249.30 372.0V428.3M250.80 376.5V436.5M252.30 361.0V418.2M253.80 367.1V410.7M255.30 360.6V415.2M256.80 366.4V415.4M258.30 357.4V411.6M259.81 361.6V410.9M261.31 347.9V411.2M262.81 351.2V410.7M264.31 352.8V404.8M265.81 369.5V443.3M267.31 382.0V436.9M268.81 384.7V442.1M270.31 374.5V431.7M271.81 358.3V404.9M273.31 379.3V432.5M274.81 359.4V430.6M276.31 373.1V420.0M277.81 360.4V431.3M279.31 334.9V384.5M280.81 336.4V406.4M282.31 343.8V408.6M283.81 350.0V397.1M285.32 337.4V380.1M286.82 336.7V378.1M288.32 339.8V386.8M289.82 341.3V378.9M291.32 337.3V385.1M292.82 317.8V380.9M294.32 341.7V387.3M295.82 342.9V386.3M297.32 368.3V422.5M298.82 374.9V424.2M300.32 376.4V437.6M301.82 376.8V429.0M303.32 395.5V448.2M304.82 372.8V420.8M306.32 376.9V439.3M307.82 380.1V444.5M309.32 370.9V425.9M310.83 360.7V425.7M312.33 372.2V425.3M313.83 356.7V413.7M315.33 363.5V426.0M316.83 373.6V433.1M318.33 370.7V430.2M319.83 380.2V440.9M321.33 370.8V429.5M322.83 377.7V437.7M324.33 361.9V421.4M325.83 362.1V421.0M327.33 363.4V419.1M328.83 363.7V421.5M330.33 377.0V440.3M331.83 370.5V423.5M333.33 373.4V422.8M334.83 364.9V422.5M336.34 370.9V422.3M337.84 367.7V411.5M339.34 368.9V414.4M340.84 369.9V428.6M342.34 363.5V422.8M343.84 352.8V419.7M345.34 365.9V420.5M346.84 372.5V420.9M348.34 367.0V422.9M349.84 367.3V412.0M351.34 370.3V413.3M352.84 379.0V435.6M354.34 366.9V423.8M355.84 369.8V443.4M357.34 382.1V440.3M358.84 385.5V442.2M360.34 371.0V430.1M361.85 369.9V420.4M363.35 366.7V429.5M364.85 369.3V420.7M366.35 364.8V419.0M367.85 351.3V416.5M369.35 364.8V424.3M370.85 365.6V434.1M372.35 370.1V416.8M373.85 365.4V417.7M375.35 366.3V417.5M376.85 383.9V436.5M378.35 378.6V429.6M379.85 382.8V438.8M381.35 373.1V446.3M382.85 372.4V417.7M384.35 377.4V422.2M385.85 372.7V421.0M387.36 368.3V433.5M388.86 380.9V424.5M390.36 376.9V437.6M391.86 379.2V424.6M393.36 364.8V424.1M394.86 357.8V408.1M396.36 370.7V415.9M397.86 365.2V421.5M399.36 365.5V413.7M400.86 376.1V421.3M402.36 369.1V417.7M403.86 373.8V426.7M405.36 357.3V396.5M406.86 354.2V394.3M408.36 352.5V390.7M409.86 350.8V406.9M411.36 359.6V399.2M412.87 350.7V394.7M414.37 354.9V392.1M415.87 357.6V398.1M417.37 356.3V416.7M418.87 370.1V429.1M420.37 377.2V429.4M421.87 372.8V429.6M423.37 375.2V419.1M424.87 355.3V416.4M426.37 381.9V424.4M427.87 379.0V422.4M429.37 371.7V421.2M430.87 374.0V422.4M432.37 367.7V428.0M433.87 382.6V423.5M435.37 382.0V427.5M436.87 370.2V416.2M438.38 372.4V413.6M439.88 378.9V422.8M441.38 384.5V431.4M442.88 385.8V428.7M444.38 387.9V431.3M445.88 378.1V423.5M447.38 374.2V423.4M448.88 376.0V422.1M450.38 380.0V428.1M451.88 371.4V423.8M453.38 382.4V432.3M454.88 378.9V429.2M456.38 372.8V429.1M457.88 382.6V431.7M459.38 392.7V440.1M460.88 383.1V437.1M462.38 384.6V449.7M463.89 387.9V440.8M465.39 354.4V391.7M466.89 352.5V386.4M468.39 350.1V389.7M469.89 347.8V384.4M471.39 353.0V393.2M472.89 343.9V395.4M474.39 352.3V391.5M475.89 359.9V393.4M477.39 340.4V401.3M478.89 350.0V385.8M480.39 360.7V399.7M481.89 363.9V398.4M483.39 357.6V394.4M484.89 362.2V398.5M486.39 360.4V408.6M487.89 353.2V390.6M489.40 354.3V389.3M490.90 355.3V392.0M492.40 355.7V399.2M493.90 332.5V385.1M495.40 338.6V403.4M496.90 344.4V380.7M498.40 344.8V379.3M499.90 346.1V386.1M501.40 341.4V381.6M502.90 350.1V391.4M504.40 349.5V384.4M505.90 350.3V389.7M507.40 341.4V383.5M508.90 345.1V385.7M510.40 351.9V397.8M511.90 345.8V385.1M513.40 350.5V398.6M514.91 339.3V382.7M516.41 345.9V381.4M517.91 348.4V390.0M519.41 355.9V389.9M520.91 352.5V389.5M522.41 354.4V389.6M523.91 341.7V397.8M525.41 353.5V387.0M526.91 356.8V399.7M528.41 393.7V442.2M529.91 382.6V433.1M531.41 381.3V433.0M532.91 384.3V435.2M534.41 393.5V449.9M535.91 390.2V439.9M537.41 385.0V440.1M538.91 380.3V438.5M540.42 378.2V447.0M541.92 392.4V442.6M543.42 392.0V434.8M544.92 388.0V434.8M546.42 374.2V432.5M547.92 385.4V430.0M549.42 374.8V429.7M550.92 385.1V426.8M552.42 341.9V382.8M553.92 335.0V367.2M555.42 332.2V364.8M556.92 332.4V371.6M558.42 333.3V376.8M559.92 315.7V363.6M561.42 314.5V380.5M562.92 334.8V382.1M564.42 329.7V368.8M565.93 335.3V371.5M567.43 327.6V368.2M568.93 317.2V363.4M570.43 336.1V366.1M571.93 329.6V363.5M573.43 336.7V365.1M574.93 341.1V388.0M576.43 319.6V366.0M577.93 325.2V369.4M579.43 331.8V367.6M580.93 341.0V381.4M582.43 338.2V368.4M583.93 332.9V370.4M585.43 332.9V381.6M586.93 340.9V369.3M588.43 332.5V368.4M589.93 328.1V389.3M591.44 336.0V367.2M592.94 340.6V369.4M594.44 336.8V374.3M595.94 340.5V373.7M597.44 343.3V375.4M598.94 329.9V368.8M600.44 336.3V380.1M601.94 320.2V380.9M603.44 337.9V369.9M604.94 338.0V370.8M606.44 335.1V372.7M607.94 383.5V424.5M609.44 381.1V443.1M610.94 370.0V432.1M612.44 375.2V415.2M613.94 378.2V433.4M615.44 371.6V435.1M616.95 359.4V419.9M618.45 367.1V418.1M619.95 384.3V422.9M621.45 382.3V435.3M622.95 378.9V420.6M624.45 378.4V421.9M625.95 375.7V439.1M627.45 381.2V423.2M628.95 384.4V421.6M630.45 366.7V421.2M631.95 360.1V429.0M633.45 384.2V433.3M634.95 381.1V423.5M636.45 367.2V428.4M637.95 375.5V415.2M639.45 382.4V424.2M640.95 370.0V418.0M642.46 378.7V430.9M643.96 380.2V418.0M645.46 380.3V421.1M646.96 382.4V419.8M648.46 382.9V418.9M649.96 374.7V436.3M651.46 380.4V437.7M652.96 376.3V417.4M654.46 378.9V424.6M655.96 371.7V412.1M657.46 376.6V420.5M658.96 374.3V417.8M660.46 368.7V424.0M661.96 374.9V418.9M663.46 370.9V416.7M664.96 362.6V419.8M666.46 376.9V425.5M667.97 371.7V418.3M669.47 377.6V420.3M670.97 379.4V421.5M672.47 373.3V425.3M673.97 382.6V424.4M675.47 379.0V425.4M676.97 380.2V427.4M678.47 388.1V424.9M679.97 387.5V426.3M681.47 382.8V437.0M682.97 373.1V417.4M684.47 376.9V421.3M685.97 382.5V422.0M687.47 377.2V430.7M688.97 385.8V435.2M690.47 364.7V425.9M691.97 383.9V425.2M693.48 373.6V421.2M694.98 379.6V422.0M696.48 378.7V416.3M697.98 370.0V417.8M699.48 381.3V425.8M700.98 379.1V419.3M702.48 380.4V429.5M703.98 378.6V424.8M705.48 378.4V419.4M706.98 377.5V418.6M708.48 372.2V415.1M709.98 383.6V422.0M711.48 376.8V433.5M712.98 384.2V432.4M714.48 382.9V427.5M715.98 386.3V430.6M717.48 385.9V422.6M718.99 382.0V426.6M720.49 374.5V428.9M721.99 381.4V420.5M723.49 379.5V431.5M724.99 386.3V425.2M726.49 371.0V438.3M727.99 387.0V423.9M729.49 380.3V436.8M730.99 386.0V437.3M732.49 383.2V425.7M733.99 381.9V442.3M735.49 379.2V441.1M736.99 377.5V422.6M738.49 383.8V426.4M739.99 381.8V430.9M741.49 388.8V430.3M742.99 383.2V427.8M744.50 383.9V424.6M746.00 385.0V433.6M747.50 374.0V425.0M749.00 382.7V429.3M750.50 386.2V436.7M752.00 377.1V418.1M753.50 374.4V418.3M755.00 380.1V417.0M756.50 381.0V421.0M758.00 381.1V424.9M759.50 378.4V421.4M761.00 380.0V424.0M762.50 379.9V438.1M764.00 381.2V423.7M765.50 365.1V421.3M767.00 380.9V421.1M768.50 381.2V424.1M770.01 374.9V418.0M771.51 377.1V422.6M773.01 373.1V425.4M774.51 385.8V427.6M776.01 381.0V433.2M777.51 377.3V421.0M779.01 379.3V421.4M780.51 380.2V422.2M782.01 373.9V418.6M783.51 377.1V417.6M785.01 378.3V423.3M786.51 374.5V430.6M788.01 364.2V426.1M789.51 376.7V415.1M791.01 361.4V418.8M792.51 372.4V420.7M794.01 372.6V420.2M795.52 374.4V412.3M797.02 381.3V418.8M798.52 370.1V416.4M800.02 376.0V413.8M801.52 370.8V418.2M803.02 371.7V411.9M804.52 369.8V417.9M806.02 361.5V411.9M807.52 378.6V414.6M809.02 368.9V412.4M810.52 374.5V425.3M812.02 368.4V414.9M813.52 376.2V420.9M815.02 371.0V416.7M816.52 375.9V419.7M818.02 360.0V422.7M819.52 385.1V423.0M821.03 367.8V436.5M822.53 381.5V421.1M824.03 374.7V420.4M825.53 368.7V418.8M827.03 380.8V417.8M828.53 370.8V427.4M830.03 370.6V421.1M831.53 375.6V431.1M833.03 369.3V414.6M834.53 373.5V421.6M836.03 374.9V432.1M837.53 377.6V414.3M839.03 377.6V430.1M840.53 370.4V436.0M842.03 368.8V424.6M843.53 382.9V424.6M845.03 380.5V419.2M846.54 368.4V415.7M848.04 375.7V437.8M849.54 375.3V435.5M851.04 374.0V412.2M852.54 376.5V421.7M854.04 377.4V419.3M855.54 361.4V419.2M857.04 372.7V419.3M858.54 371.6V415.2M860.04 372.9V415.7M861.54 379.4V414.6M863.04 375.9V419.4M864.54 380.4V435.7M866.04 369.0V424.0M867.54 376.8V436.4M869.04 379.4V417.9M870.54 380.0V428.9M872.05 383.1V427.6M873.55 379.0V417.3M875.05 378.2V423.6M876.55 376.5V429.5M878.05 374.3V439.3M879.55 381.3V426.3M881.05 381.5V424.7M882.55 379.9V418.9M884.05 386.1V438.4M885.55 372.0V420.1M887.05 379.1V419.0M888.55 366.2V420.5M890.05 375.5V425.9M891.55 382.2V422.6M893.05 371.3V416.9M894.55 381.1V419.7M896.05 382.6V420.9M897.56 383.5V421.2M899.06 380.8V420.3M900.56 372.7V423.4M902.06 381.0V424.4M903.56 372.3V430.0M905.06 382.6V429.9M906.56 366.6V428.3M908.06 381.2V424.2M909.56 372.7V431.0M911.06 378.4V436.3M912.56 386.0V429.2M914.06 367.3V428.0M915.56 379.8V417.5M917.06 382.8V427.0M918.56 387.0V424.4M920.06 380.3V422.0M921.56 365.9V420.5M923.07 385.4V438.0M924.57 364.9V421.0M926.07 375.5V419.2M927.57 385.6V424.5M929.07 386.2V426.9M930.57 386.8V431.2M932.07 390.9V443.0M933.57 375.5V441.3M935.07 376.2V431.8M936.57 382.9V430.3M938.07 374.6V428.8M939.57 372.7V437.9M941.07 372.1V421.4M942.57 373.0V432.0M944.07 384.1V424.5M945.57 386.4V420.5M947.07 382.4V422.2M948.58 377.1V418.6M950.08 379.6V421.9M951.58 374.5V421.2M953.08 375.8V418.2M954.58 381.8V422.9M956.08 378.5V421.6M957.58 370.2V415.8M959.08 375.5V419.5M960.58 375.3V422.0M962.08 378.1V415.2M963.58 384.6V422.2M965.08 380.7V428.0M966.58 360.6V426.1M968.08 372.4V411.7M969.58 371.5V410.4M971.08 359.5V414.3M972.58 351.9V405.7M974.09 371.4V415.8M975.59 357.1V407.1M977.09 366.7V409.7M978.59 362.7V404.7M980.09 361.4V416.9M981.59 371.4V415.5M983.09 374.9V415.2M984.59 352.5V408.6M986.09 372.0V408.0M987.59 378.6V414.4M989.09 369.4V413.0M990.59 367.4V421.5M992.09 368.5V415.5M993.59 370.8V422.0M995.09 369.4V434.5M996.59 373.5V419.5M998.09 373.4V425.3M999.60 380.1V416.0M1001.10 386.1V424.7M1002.60 362.5V418.0M1004.10 369.8V417.6M1005.60 373.6V413.2M1007.10 378.2V422.6M1008.60 371.7V415.3M1010.10 381.5V416.9M1011.60 370.1V422.6M1013.10 377.4V413.0M1014.60 382.4V431.0M1016.10 379.0V421.4M1017.60 374.9V416.6M1019.10 379.6V424.4M1020.60 378.6V416.2M1022.10 374.3V429.4M1023.60 360.4V420.2M1025.11 373.4V413.0M1026.61 376.6V433.6M1028.11 383.5V423.7M1029.61 361.8V417.2M1031.11 378.0V414.8M1032.61 383.2V419.0M1034.11 367.7V425.6M1035.61 379.5V429.6M1037.11 380.8V415.9M1038.61 380.8V425.5M1040.11 383.2V422.8M1041.61 372.7V430.2M1043.11 377.8V425.6M1044.61 371.1V424.1M1046.11 379.8V423.1M1047.61 374.7V421.2M1049.11 373.8V418.2M1050.62 371.3V418.5M1052.12 372.0V416.5M1053.62 379.5V417.1M1055.12 375.4V415.3M1056.62 378.6V417.7M1058.12 379.7V428.3M1059.62 383.1V425.9M1061.12 370.9V422.4M1062.62 381.4V417.3M1064.12 379.5V423.8M1065.62 379.8V416.2M1067.12 378.8V414.6M1068.62 382.9V437.7M1070.12 376.9V418.1M1071.62 382.3V418.2M1073.12 381.0V420.6M1074.62 371.6V423.9M1076.13 378.2V418.3M1077.63 377.4V414.1M1079.13 384.3V418.4M1080.63 376.1V419.8M1082.13 383.7V420.4M1083.63 380.2V422.0M1085.13 380.6V428.3M1086.63 375.9V420.2M1088.13 385.0V425.1M1089.63 375.7V419.2M1091.13 384.6V427.0M1092.63 380.6V422.0M1094.13 377.3V426.4M1095.63 377.0V435.4M1097.13 375.5V422.4M1098.63 376.6V422.5M1100.13 365.5V424.3M1101.64 377.5V421.1M1103.14 370.4V423.7M1104.64 381.2V418.7M1106.14 388.4V426.8M1107.64 371.5V424.5M1109.14 379.7V433.6M1110.64 367.4V431.7M1112.14 368.1V416.6M1113.64 380.3V431.7M1115.14 364.9V411.8M1116.64 379.8V418.0M1118.14 380.2V425.7M1119.64 363.9V420.1M1121.14 372.1V415.8M1122.64 372.9V423.5M1124.14 374.9V419.8M1125.64 378.4V424.7M1127.15 374.9V414.0M1128.65 368.5V416.4M1130.15 375.8V414.6M1131.65 376.8V415.3M1133.15 377.7V418.3M1134.65 372.6V425.8M1136.15 375.8V420.5M1137.65 378.4V412.8M1139.15 370.6V422.5M1140.65 377.9V427.2M1142.15 376.4V415.9M1143.65 376.1V432.3M1145.15 380.1V416.7M1146.65 381.8V421.8M1148.15 381.4V427.1M1149.65 378.2V415.8M1151.15 365.6V424.0M1152.66 378.5V425.2M1154.16 379.3V421.3M1155.66 383.1V422.8M1157.16 371.7V415.2M1158.66 374.0V417.6M1160.16 383.9V437.4M1161.66 378.0V416.0M1163.16 373.5V414.6M1164.66 371.3V416.4M1166.16 383.1V427.5M1167.66 368.4V415.4M1169.16 377.2V425.4M1170.66 366.7V438.5M1172.16 370.7V432.7M1173.66 381.7V427.4M1175.16 363.8V424.3M1176.66 377.2V416.3M1178.17 381.1V421.3M1179.67 376.5V419.5M1181.17 380.5V424.7M1182.67 366.4V420.2M1184.17 374.4V422.0M1185.67 381.9V424.3M1187.17 375.3V427.5M1188.67 375.2V428.5M1190.17 385.5V433.2M1191.67 370.5V409.7M1193.17 369.7V421.3M1194.67 370.0V428.1M1196.17 380.7V438.2M1197.67 379.7V416.1M1199.17 376.0V419.9M1200.67 380.5V418.9M1202.17 370.1V417.8M1203.68 369.5V419.4M1205.18 372.6V417.9M1206.68 381.2V424.6M1208.18 379.9V418.5M1209.68 372.3V415.5M1211.18 382.6V420.5M1212.68 376.7V415.8M1214.18 378.0V419.3M1215.68 377.1V420.0M1217.18 378.7V421.1M1218.68 384.2V428.4M1220.18 373.7V418.1M1221.68 384.8V422.0M1223.18 372.7V424.6M1224.68 377.2V416.4M1226.18 370.8V413.6M1227.68 373.4V426.8M1229.19 366.5V423.9M1230.69 369.7V417.0M1232.19 378.5V420.5M1233.69 366.9V421.2M1235.19 375.5V439.6M1236.69 372.9V429.8M1238.19 381.9V420.7M1239.69 370.4V415.2M1241.19 378.1V419.2M1242.69 381.3V419.2M1244.19 384.9V430.1M1245.69 378.1V423.7M1247.19 376.1V413.9M1248.69 375.8V421.8M1250.19 371.4V419.6M1251.69 381.5V417.1M1253.19 372.7V433.9M1254.70 380.1V422.1M1256.20 380.2V440.1M1257.70 384.4V430.1M1259.20 384.4V422.0M1260.70 385.6V422.3M1262.20 381.5V439.2M1263.70 383.7V420.8M1265.20 381.8V420.3M1266.70 378.5V430.6M1268.20 385.1V429.4M1269.70 383.5V423.5M1271.20 384.3V423.4M1272.70 378.3V431.4M1274.20 366.4V427.2M1275.70 370.7V429.6M1277.20 382.8V428.3M1278.70 373.6V415.1M1280.21 376.6V418.7M1281.71 380.1V420.2M1283.21 376.8V425.5M1284.71 377.1V418.1M1286.21 375.3V432.5M1287.71 370.1V410.7M1289.21 364.9V417.6M1290.71 374.6V426.1M1292.21 369.3V416.9M1293.71 371.7V421.7M1295.21 361.7V411.4M1296.71 375.8V413.3M1298.21 368.8V415.0M1299.71 377.4V416.8M1301.21 380.6V414.8M1302.71 381.1V419.0M1304.21 379.4V429.7M1305.72 376.7V416.2M1307.22 372.0V417.7M1308.72 380.4V427.1M1310.22 373.2V420.2M1311.72 370.6V419.9M1313.22 377.5V435.9M1314.72 380.0V421.7M1316.22 372.6V415.0M1317.72 376.8V431.3M1319.22 384.5V440.9M1320.72 382.0V418.8M1322.22 380.6V417.1M1323.72 383.4V421.3M1325.22 378.6V426.7M1326.72 379.4V418.3M1328.22 378.6V435.0M1329.72 377.0V416.8M1331.23 372.5V423.2M1332.73 377.9V429.2M1334.23 377.8V420.3M1335.73 365.5V439.4M1337.23 372.8V432.2M1338.73 380.9V422.1M1340.23 377.8V436.3M1341.73 385.2V424.9M1343.23 387.3V432.5M1344.73 386.0V424.5M1346.23 381.5V416.5M1347.73 369.8V418.8M1349.23 341.1V370.6M1350.73 341.2V376.7M1352.23 344.0V372.7M1353.73 339.5V371.0M1355.23 333.1V376.2M1356.74 346.2V375.1M1358.24 328.7V378.1M1359.74 333.8V366.7M1361.24 338.2V372.4M1362.74 345.0V374.5M1364.24 345.5V378.3M1365.74 327.8V386.7M1367.24 339.3V376.6M1368.74 342.5V378.9M1370.24 324.7V366.7M1371.74 341.7V377.7M1373.24 383.4V420.3M1374.74 384.8V419.4M1376.24 373.0V422.3M1377.74 370.2V425.1M1379.24 355.7V416.5M1380.74 377.0V424.4M1382.25 366.1V430.6M1383.75 368.7V411.4M1385.25 373.4V429.3M1386.75 381.6V429.0M1388.25 365.5V413.6M1389.75 375.5V416.7M1391.25 380.3V416.8M1392.75 379.0V424.2M1394.25 375.8V417.7"/></g>
<path d="M117 77.5H1396M117 655.5H1396" fill="none" stroke="#1a1a1a" stroke-width="2"/><path d="M1395 76.5V656.5" fill="none" stroke="#000" stroke-width="2"/><path d="M118 76.5V656.5" fill="none" stroke="#4a4a4a" stroke-width="2.2"/>
<text transform="translate(757 31.6) scale(0.997 1)" text-anchor="middle" font-weight="bold" font-size="38.8"><tspan font-size="41">R</tspan>adii of <tspan font-size="41">G</tspan>yration (<tspan font-size="41">R</tspan>g) of the complexes studied</text>
<g font-size="33.4"><text transform="translate(123.2 703.7) scale(1.04 1)" text-anchor="middle">0</text><text transform="translate(378.6 703.7) scale(1.04 1)" text-anchor="middle">2000</text><text transform="translate(634.0 703.7) scale(1.04 1)" text-anchor="middle">4000</text><text transform="translate(889.4 703.7) scale(1.04 1)" text-anchor="middle">6000</text><text transform="translate(1144.8 703.7) scale(1.04 1)" text-anchor="middle">8000</text><text transform="translate(1400.2 703.7) scale(1.04 1)" text-anchor="middle">10000</text><text transform="translate(103.8 89.9) scale(1.04 1)" text-anchor="end">3.4</text><text transform="translate(103.8 282.9) scale(1.04 1)" text-anchor="end">3</text><text transform="translate(103.8 475.9) scale(1.04 1)" text-anchor="end">2.6</text><text transform="translate(103.8 668.9) scale(1.04 1)" text-anchor="end">2.2</text></g>
<g font-size="32.0" font-weight="bold"><text x="124.85" y="123.4" textLength="287.62" lengthAdjust="spacingAndGlyphs">somenthone-CYP51</text><path d="M113.8 101.2h9.6v3.2h-2.50V120.20h2.50V123.4h-9.6v-3.2h2.50V104.40h-2.50z" fill="#000"/><path d="M434 112.6H519" stroke="#000000" stroke-width="1.6"/><text x="172.52" y="164.7" textLength="239.92" lengthAdjust="spacingAndGlyphs">Pulegone-CYP51</text><path d="M434 153.4H519" stroke="#0000ff" stroke-width="1.6"/><text x="640.12" y="123.4" textLength="212.28" lengthAdjust="spacingAndGlyphs">Thymol-CYP51</text><path d="M873.5 112.6H959.5" stroke="#ff0000" stroke-width="1.6"/><text x="615.00" y="164.7" textLength="240.67" lengthAdjust="spacingAndGlyphs">Pulegone-Als9-2</text><path d="M873.5 153.4H959.5" stroke="#00ff00" stroke-width="1.6"/><text x="1083.58" y="123.4" textLength="212.08" lengthAdjust="spacingAndGlyphs">Thymol-Als9-2</text><path d="M1313.5 112.6H1398.5" stroke="#ffff00" stroke-width="1.6"/><text x="1007.22" y="164.7" textLength="288.60" lengthAdjust="spacingAndGlyphs">somenthone-Als9-2</text><path d="M997 142h9.6v3.2h-2.50V161.50h2.50V164.7h-9.6v-3.2h2.50V145.20h-2.50z" fill="#000"/><path d="M1313.5 153.4H1398.5" stroke="#c080ff" stroke-width="1.6"/></g>
<text transform="translate(756.8 755.0) scale(0.951 1)" text-anchor="middle" font-weight="bold" font-size="30.3"><tspan font-size="31.7">F</tspan>rames (<tspan font-size="31.7">100</tspan> frames=<tspan font-size="31.7">1</tspan> ns <tspan font-size="31.7">TOTAL</tspan>: <tspan font-size="31.7">100</tspan> ns)</text>
<text transform="translate(29.4 367) rotate(-90) scale(0.9 1)" text-anchor="middle" font-weight="bold" font-size="31.5">Rg (Å)</text>
<rect x="0" y="339" width="6.9" height="10.5" fill="#fff"/>
<ellipse cx="5.4" cy="344.1" rx="2.3" ry="1.9" fill="#000"/>
</g>
</svg>
</body></html>
